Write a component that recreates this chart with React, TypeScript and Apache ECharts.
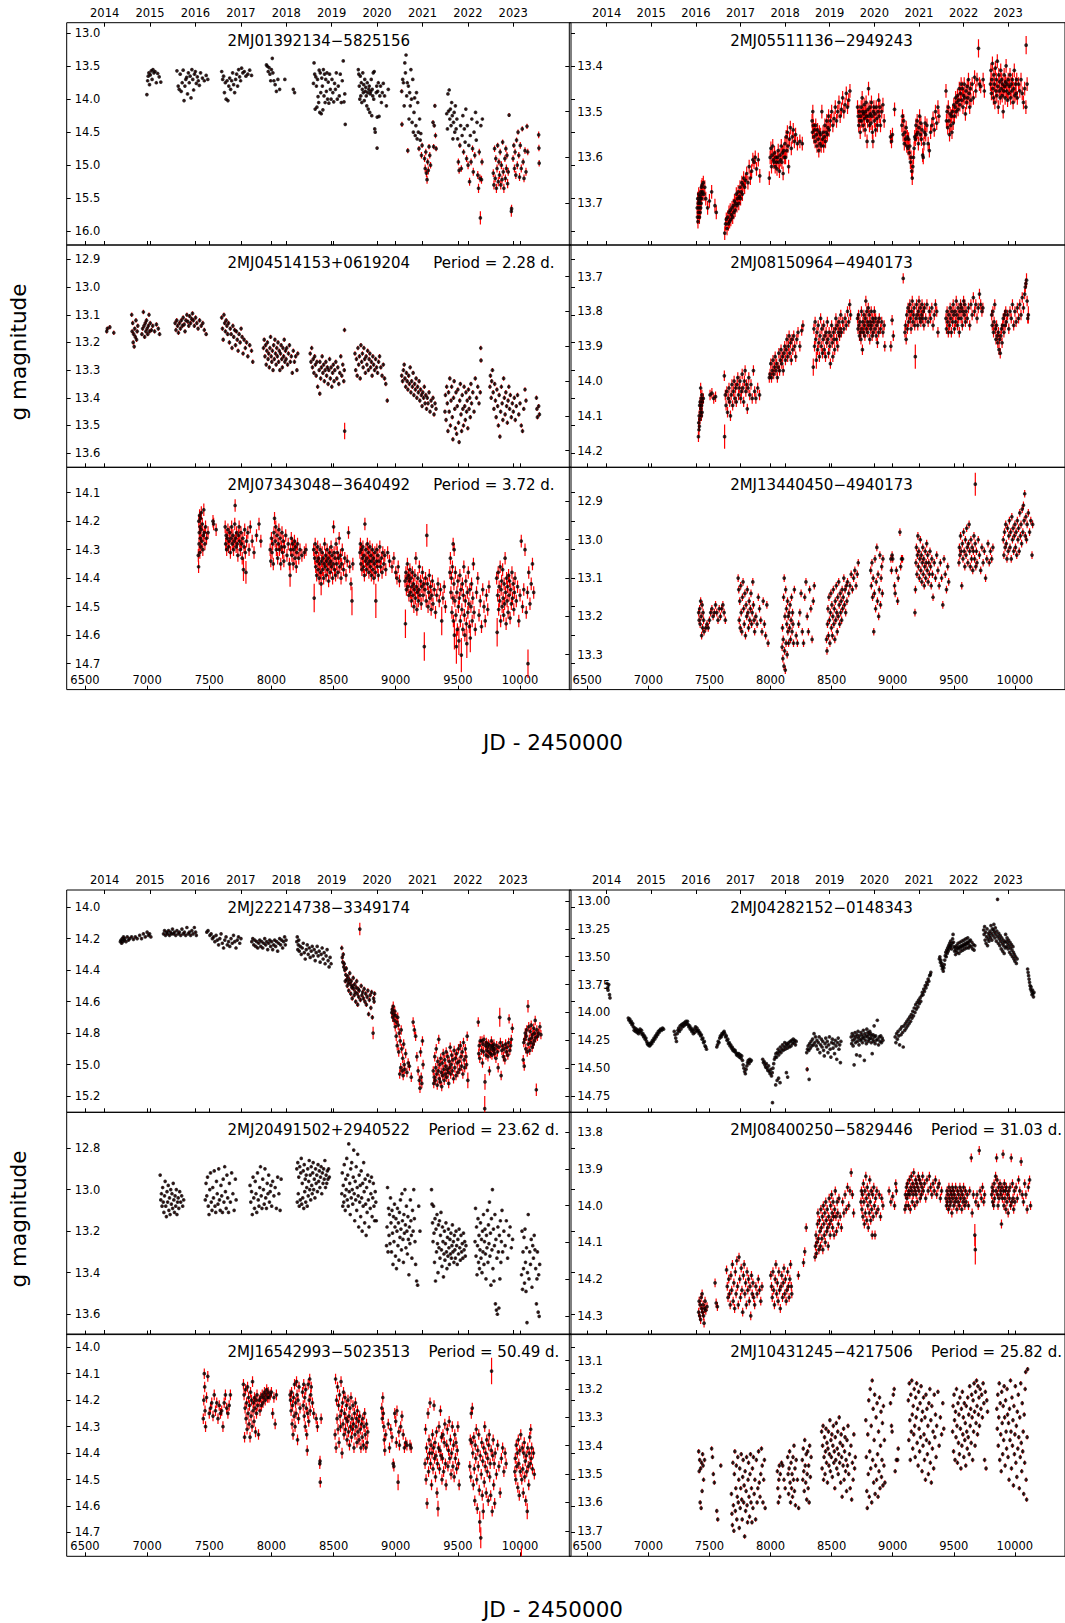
import React, { useEffect, useRef } from "react";
import * as echarts from "echarts";

const JD_TICKS = [6500, 7000, 7500, 8000, 8500, 9000, 9500, 10000];
const YEAR_JD = [6658.5, 7023.5, 7388.5, 7754.5, 8119.5, 8484.5, 8849.5, 9215.5, 9580.5, 9945.5];
const YEAR_LABELS = ["2014", "2015", "2016", "2017", "2018", "2019", "2020", "2021", "2022", "2023"];
const X_MIN = 6353;
const X_MAX = 10410;

const NAMES = [
  "2MJ01392134\u22125825156", "2MJ05511136\u22122949243",
  "2MJ04514153+0619204", "2MJ08150964\u22124940173",
  "2MJ07343048\u22123640492", "2MJ13440450\u22124940173",
  "2MJ22214738\u22123349174", "2MJ04282152\u22120148343",
  "2MJ20491502+2940522", "2MJ08400250\u22125829446",
  "2MJ16542993\u22125023513", "2MJ10431245\u22124217506",
];
const PERIODS = ["", "", "Period = 2.28 d.", "", "Period = 3.72 d.", "", "", "", "Period = 23.62 d.", "Period = 31.03 d.", "Period = 50.49 d.", "Period = 25.82 d."];
const Y_MIN = [12.84, 13.306, 12.848, 13.609, 14.011, 12.811, 13.892, 12.901, 12.628, 13.746, 13.95, 13.006];
const Y_MAX = [16.21, 13.791, 13.651, 14.248, 14.791, 13.391, 15.303, 14.896, 13.698, 14.351, 14.79, 13.79];
const Y_TICKS = [
  [13.0, 13.5, 14.0, 14.5, 15.0, 15.5, 16.0],
  [13.4, 13.5, 13.6, 13.7],
  [12.9, 13.0, 13.1, 13.2, 13.3, 13.4, 13.5, 13.6],
  [13.7, 13.8, 13.9, 14.0, 14.1, 14.2],
  [14.1, 14.2, 14.3, 14.4, 14.5, 14.6, 14.7],
  [12.9, 13.0, 13.1, 13.2, 13.3],
  [14.0, 14.2, 14.4, 14.6, 14.8, 15.0, 15.2],
  [13.0, 13.25, 13.5, 13.75, 14.0, 14.25, 14.5, 14.75],
  [12.8, 13.0, 13.2, 13.4, 13.6],
  [13.8, 13.9, 14.0, 14.1, 14.2, 14.3],
  [14.0, 14.1, 14.2, 14.3, 14.4, 14.5, 14.6, 14.7],
  [13.1, 13.2, 13.3, 13.4, 13.5, 13.6, 13.7],
];
const Y_DEC = [1, 1, 1, 1, 1, 1, 1, 2, 1, 1, 1, 1];

// ---------- observations [JD-2450000, g mag, (err)] ----------
const A_OBS = [
[6998,13.93],[7004,13.72],[7009,13.65],[7014,13.60],[7019,13.78],[7026,13.63],[7033,13.57],[7040,13.70],[7047,13.55],[7055,13.60],[7064,13.58],[7074,13.75],[7085,13.61],[7097,13.66],[7110,13.74],
[7240,13.57],[7250,13.80],[7258,13.85],[7266,13.62],[7274,13.88],[7282,13.75],[7290,13.56],[7297,14.02],[7304,13.80],[7311,13.70],[7318,13.67],[7325,13.92],[7332,13.60],[7339,13.75],[7346,13.65],[7353,13.98],[7360,13.55],[7367,13.70],[7374,13.86],[7381,13.62],[7388,13.58],[7396,13.76],[7404,13.66],[7412,13.72],[7420,13.79],[7430,13.60],[7445,13.68],[7460,13.72],[7475,13.64],[7488,13.70],
[7600,13.58],[7608,13.70],[7615,13.65],[7622,13.90],[7629,13.75],[7636,14.00],[7643,13.72],[7650,14.02],[7657,13.80],[7664,13.68],[7672,13.85],[7680,13.72],[7688,13.60],[7696,13.78],[7704,13.90],[7712,13.70],[7720,13.62],[7728,13.80],[7736,13.55],[7744,13.66],[7752,13.72],[7760,13.53],[7770,13.60],[7782,13.58],[7795,13.65],[7810,13.62],[7825,13.56],[7840,13.64],
[7960,13.48],[7967,13.50],[7974,13.58],[7981,13.52],[7988,13.62],[7994,13.72],[8000,13.55],[8007,13.38],[8012,13.60],[8020,13.72],[8030,13.78],[8040,13.88],[8052,13.70],[8066,13.85],[8108,13.70],[8176,13.85],[8186,13.90],
[8338,13.76],[8343,13.45],[8348,13.62],[8352,14.15],[8357,13.66],[8362,13.80],[8366,14.12],[8371,13.70],[8375,13.96],[8380,14.05],[8384,13.56],[8389,14.20],[8393,13.60],[8397,13.90],[8401,14.22],[8405,13.68],[8410,13.80],[8414,14.16],[8418,13.55],[8423,13.95],[8427,13.62],[8432,14.05],[8437,13.70],[8442,13.88],[8447,13.60],[8452,14.00],[8457,13.74],[8462,14.06],[8468,13.62],[8474,13.85],[8480,14.00],[8487,13.70],[8494,13.90],[8501,14.04],[8508,13.76],[8515,13.85],[8522,13.60],[8530,14.00],[8538,13.80],[8546,13.95],[8554,13.62],[8562,14.05],[8570,13.72],[8578,13.42],[8584,14.04],[8590,13.92],[8594,14.38],
[8699,13.55],[8703,13.62],[8707,13.80],[8711,14.00],[8715,13.65],[8719,13.95],[8723,13.75],[8727,14.05],[8731,13.85],[8735,13.60],[8739,13.90],[8743,13.78],[8747,14.02],[8751,13.70],[8755,13.88],[8759,13.82],[8763,13.95],[8767,14.10],[8771,13.75],[8775,13.90],[8779,14.15],[8783,13.85],[8787,13.80],[8791,14.20],[8795,13.92],[8799,13.88],[8803,13.70],[8807,14.25],[8811,13.85],[8815,13.95],[8819,13.60],[8823,14.00],[8827,13.58],[8831,14.45],[8835,14.50],[8850,14.74,0.02],[8843,13.90],[8847,13.80],[8851,14.27],[8855,13.88],[8860,13.75],[8866,14.26],[8872,13.95],[8878,13.80],[8885,14.05],[8892,13.90],[8900,13.76],[8910,13.95],[8925,14.10],[8940,13.85],
[9048,13.88,0.03],[9050,14.38,0.04],[9056,13.70],[9062,13.75],[9068,14.10],[9073,13.45],[9078,13.60],[9083,13.33],[9088,13.95],[9093,13.75],[9097,14.78,0.04],[9102,13.80],[9107,14.30],[9112,13.90],[9117,14.10],[9122,13.55],[9127,14.00],[9132,14.35],[9137,13.70],[9142,14.50],[9147,14.20],[9152,13.98],[9157,14.55],[9162,14.40],[9167,13.90],[9172,14.60],[9177,14.05],[9182,14.50],[9187,14.75,0.04],[9192,14.30],[9197,14.62],[9202,14.52],[9207,14.85,0.05],[9212,14.70,0.04],[9232,14.90,0.05],[9237,15.05,0.06],[9242,14.80,0.05],[9247,15.12,0.06],[9252,15.22,0.06],[9257,14.95,0.05],[9262,15.08,0.06],[9268,14.72,0.04],[9274,14.85,0.05],[9280,15.00,0.05],[9300,14.35,0.03],[9305,14.72,0.04],[9310,14.40,0.03],[9315,14.10,0.03],[9320,14.55,0.04],[9325,14.75,0.04],
[9410,14.22],[9416,14.45],[9420,13.92],[9425,14.18],[9430,13.86],[9435,14.30],[9440,14.15],[9445,14.40],[9450,14.05],[9455,14.25],[9460,14.60],[9465,14.35],[9470,14.20],[9475,14.50],[9480,14.10],[9486,14.45],[9492,14.30],[9498,14.60],[9504,14.95,0.05],[9510,15.08,0.05],[9516,14.70,0.04],[9522,14.40],[9528,15.05,0.05],[9534,14.55],[9540,14.25],[9546,14.80,0.04],[9552,14.45],[9558,14.65],[9564,14.15],[9570,14.90,0.05],[9576,14.40],[9582,15.00,0.06],[9588,14.70],[9594,15.25,0.06],[9600,14.55],[9606,14.95,0.05],[9612,14.30],[9618,14.75,0.05],[9624,15.10,0.06],[9630,14.50],[9636,14.85,0.05],[9642,14.20],[9648,14.62],[9654,14.35],[9660,15.15,0.06],[9666,15.35,0.07],[9672,14.80,0.05],[9678,15.20,0.06],[9681,15.80,0.1],[9685,14.40],[9690,15.22,0.06],[9694,14.95,0.05],[9697,14.30],
[9785,15.12,0.06],[9790,15.30,0.07],[9795,14.75,0.05],[9800,15.20,0.06],[9805,14.90,0.05],[9810,15.35,0.07],[9815,15.05,0.06],[9820,14.70,0.04],[9825,15.25,0.07],[9830,14.95,0.05],[9835,15.15,0.06],[9840,14.80,0.05],[9845,15.30,0.07],[9850,15.00,0.06],[9855,15.22,0.06],[9860,14.65,0.04],[9865,15.10,0.06],[9870,15.35,0.07],[9878,14.90,0.05],[9882,15.20,0.06],[9886,14.75,0.05],[9890,15.05,0.06],[9895,14.85,0.05],[9900,15.28,0.07],[9905,15.10,0.06],[9912,14.24,0.03],[9930,15.70,0.08],[9932,15.66,0.06],[9944,14.90,0.05],[9950,14.70,0.04],[9955,15.05,0.06],[9960,14.80,0.05],[9966,15.15,0.06],[9972,14.62,0.04],[9978,15.00,0.06],[9984,14.50,0.04],[9990,14.85,0.05],[9996,15.18,0.06],[10002,14.70,0.05],[10010,15.05,0.06],[10018,14.45,0.04],[10025,14.95,0.05],[10032,15.20,0.06],[10040,14.78,0.05],[10048,15.10,0.06],[10056,14.41,0.04],[10062,14.80,0.05],
[10150,14.54,0.05],[10152,14.74,0.05],[10154,14.97,0.05],
];

const B_OBS = [
[7400,13.71],[7402,13.73],[7404,13.69],[7406,13.74],[7408,13.70],[7410,13.72],[7412,13.68],[7414,13.71],[7416,13.695],[7418,13.73],[7420,13.70],[7422,13.685],[7424,13.72],[7426,13.69],[7428,13.71],[7430,13.675],[7432,13.70],[7434,13.665],[7436,13.69],[7438,13.68],[7440,13.66],[7445,13.675],[7450,13.655],[7455,13.68],[7462,13.665],[7470,13.69],[7485,13.71],[7500,13.695],[7518,13.675],[7545,13.705],[7556,13.72],
[7625,13.765],[7632,13.745],[7638,13.735],[7644,13.755],[7650,13.73],[7655,13.745],[7660,13.72],[7665,13.74],[7670,13.715],[7675,13.735],[7680,13.725],[7685,13.71],[7690,13.73],[7695,13.705],[7700,13.72],[7705,13.695],[7710,13.715],[7715,13.70],[7720,13.68],[7725,13.705],[7730,13.69],[7735,13.675],[7740,13.70],[7745,13.685],[7750,13.665],[7755,13.69],[7760,13.675],[7765,13.655],[7770,13.68],[7775,13.66],[7780,13.645],[7788,13.665],[7795,13.65],[7805,13.635],[7815,13.655],[7825,13.62],[7835,13.645],[7845,13.63],[7855,13.605],[7865,13.61],[7875,13.60],[7885,13.625],[7900,13.605],[7912,13.64],
[7990,13.645],[7997,13.60],[8003,13.58],[8008,13.62],[8013,13.595],[8018,13.575],[8023,13.605],[8028,13.61],[8033,13.59],[8038,13.62],[8043,13.60],[8048,13.61],[8053,13.625],[8058,13.60],[8063,13.585],[8068,13.61],[8073,13.63],[8078,13.595],[8083,13.605],[8088,13.575],[8093,13.61],[8098,13.59],[8103,13.635],[8108,13.585],[8113,13.60],[8118,13.57],[8123,13.60],[8128,13.555],[8133,13.585],[8138,13.545],[8143,13.575],[8148,13.62],[8155,13.56],[8162,13.535],[8170,13.58],[8178,13.555],[8186,13.54],[8195,13.565],[8205,13.55],[8220,13.57],[8240,13.565],[8260,13.57],
[8340,13.52],[8343,13.545],[8346,13.50],[8350,13.53],[8355,13.555],[8360,13.54],[8365,13.565],[8370,13.53],[8375,13.55],[8380,13.575],[8385,13.54],[8390,13.56],[8395,13.585],[8400,13.545],[8405,13.57],[8410,13.55],[8415,13.575],[8420,13.50],[8425,13.56],[8430,13.545],[8435,13.575],[8440,13.555],[8445,13.53],[8450,13.565],[8455,13.545],[8460,13.52],[8465,13.55],[8470,13.535],[8475,13.51],[8480,13.54],[8490,13.52],[8500,13.50],[8510,13.53],[8520,13.515],[8530,13.49],[8540,13.52],[8550,13.50],[8560,13.48],[8570,13.51],[8580,13.495],[8590,13.47],[8600,13.50],[8610,13.485],[8620,13.46],[8630,13.49],[8640,13.475],[8650,13.455],
[8712,13.49],[8718,13.51],[8722,13.53],[8726,13.50],[8730,13.52],[8734,13.545],[8738,13.51],[8742,13.49],[8746,13.52],[8750,13.47],[8754,13.50],[8758,13.53],[8762,13.505],[8766,13.485],[8770,13.515],[8774,13.54],[8778,13.50],[8782,13.48],[8786,13.51],[8790,13.565],[8794,13.52],[8798,13.495],[8802,13.45],[8806,13.51],[8810,13.53],[8814,13.49],[8818,13.505],[8822,13.525],[8826,13.48],[8830,13.51],[8834,13.545],[8838,13.565],[8842,13.50],[8846,13.49],[8850,13.52],[8855,13.505],[8860,13.54],[8865,13.49],[8870,13.515],[8875,13.53],[8880,13.50],[8885,13.475],[8890,13.51],[8895,13.49],[8900,13.53],[8910,13.50],[8920,13.485],[8930,13.52],
[8982,13.555],[8990,13.565],[8998,13.55],[9015,13.495],
[9075,13.53],[9080,13.51],[9085,13.55],[9090,13.52],[9095,13.57],[9100,13.545],[9105,13.56],[9110,13.535],[9115,13.575],[9120,13.555],[9125,13.58],[9130,13.56],[9135,13.59],[9140,13.575],[9145,13.61],[9150,13.60],[9155,13.63],[9160,13.645],[9165,13.62],[9170,13.60],[9175,13.58],[9180,13.555],[9185,13.56],[9190,13.53],[9195,13.55],[9200,13.52],[9205,13.545],[9210,13.57],[9215,13.535],[9220,13.51],[9225,13.55],[9230,13.525],[9235,13.56],[9240,13.54],[9245,13.595],[9250,13.60],[9255,13.57],[9260,13.545],[9265,13.525],[9270,13.55],[9280,13.53],[9290,13.57],[9300,13.585],[9310,13.545],[9320,13.53],[9330,13.515],[9340,13.54],[9350,13.50],[9360,13.525],[9370,13.49],[9378,13.51],
[9436,13.455],[9440,13.52],[9445,13.50],[9450,13.535],[9455,13.49],[9460,13.52],[9465,13.55],[9470,13.505],[9475,13.53],[9480,13.51],[9485,13.545],[9490,13.50],[9495,13.525],[9500,13.485],[9505,13.51],[9510,13.49],[9515,13.47],[9520,13.50],[9525,13.48],[9530,13.465],[9535,13.495],[9540,13.475],[9545,13.45],[9550,13.485],[9555,13.46],[9560,13.44],[9565,13.475],[9570,13.45],[9575,13.49],[9580,13.465],[9585,13.44],[9590,13.47],[9595,13.505],[9600,13.455],[9605,13.48],[9610,13.445],[9615,13.47],[9620,13.43],[9625,13.46],[9630,13.49],[9635,13.45],[9640,13.475],[9650,13.44],[9660,13.47],[9670,13.425],[9680,13.455],[9690,13.43],[9702,13.362,0.02],[9710,13.44],[9720,13.445],[9740,13.43],[9750,13.455],
[9800,13.44],[9804,13.41],[9808,13.46],[9812,13.43],[9816,13.395],[9820,13.45],[9824,13.47],[9828,13.42],[9832,13.44],[9836,13.48],[9840,13.405],[9844,13.455],[9848,13.43],[9852,13.465],[9856,13.39],[9860,13.445],[9864,13.49],[9868,13.42],[9872,13.455],[9876,13.435],[9880,13.47],[9884,13.41],[9888,13.45],[9892,13.43],[9896,13.465],[9900,13.44],[9904,13.50],[9908,13.455],[9912,13.42],[9916,13.445],[9920,13.47],[9924,13.435],[9928,13.40],[9932,13.455],[9936,13.44],[9940,13.475],[9945,13.43],[9950,13.46],[9955,13.445],[9960,13.42],[9965,13.47],[9970,13.44],[9975,13.455],[9980,13.43],[9985,13.48],[9990,13.45],[9995,13.41],[10000,13.465],[10005,13.44],[10010,13.46],[10015,13.43],[10020,13.47],[10030,13.44],[10040,13.455],[10050,13.43],[10060,13.46],[10070,13.48],[10080,13.45],[10090,13.49],[10092,13.355,0.02],[10100,13.44],
];

const C_OBS = [
[6675,13.16],[6680,13.15],[6700,13.145],[6732,13.165],
[6876,13.10],[6880,13.16],[6884,13.13],[6888,13.20],[6892,13.17],[6896,13.215],[6900,13.15],[6905,13.18],[6910,13.12],[6915,13.19],[6920,13.16],[6925,13.14],[6958,13.17],[6964,13.15],[6970,13.09],[6975,13.14],[6980,13.18],[6985,13.13],[6990,13.16],[6995,13.12],[7000,13.15],[7005,13.17],[7010,13.14],[7015,13.10],[7020,13.16],[7025,13.13],[7035,13.155],[7045,13.14],[7060,13.16],[7075,13.135],[7090,13.15],[7100,13.17],
[7225,13.13],[7232,13.155],[7238,13.12],[7245,13.14],[7252,13.165],[7260,13.13],[7268,13.15],[7275,13.12],[7283,13.14],[7290,13.11],[7298,13.135],[7305,13.16],[7312,13.12],[7320,13.10],[7328,13.125],[7335,13.14],[7342,13.105],[7350,13.13],[7358,13.115],[7365,13.095],[7372,13.12],[7380,13.14],[7390,13.11],[7400,13.13],[7410,13.15],[7422,13.12],[7435,13.14],[7448,13.13],[7460,13.155],[7475,13.17],
[7600,13.11],[7606,13.15],[7612,13.19],[7618,13.10],[7624,13.13],[7630,13.16],[7636,13.12],[7642,13.14],[7648,13.17],[7655,13.13],[7662,13.20],[7669,13.15],[7676,13.17],[7683,13.22],[7690,13.14],[7697,13.18],[7704,13.155],[7711,13.21],[7718,13.16],[7725,13.19],[7732,13.23],[7740,13.17],[7748,13.20],[7756,13.15],[7764,13.18],[7772,13.24],[7780,13.19],[7790,13.22],[7800,13.20],[7810,13.25],[7825,13.21],[7840,13.23],[7850,13.27],
[7936,13.22],[7942,13.19],[7948,13.25],[7953,13.21],[7958,13.28],[7963,13.23],[7968,13.20],[7973,13.26],[7978,13.24],[7983,13.29],[7988,13.22],[7993,13.18],[7998,13.25],[8003,13.27],[8008,13.23],[8013,13.30],[8018,13.21],[8023,13.26],[8028,13.19],[8033,13.24],[8038,13.28],[8043,13.22],[8048,13.25],[8053,13.20],[8058,13.27],[8063,13.23],[8068,13.30],[8073,13.24],[8078,13.21],[8083,13.26],[8088,13.29],[8093,13.22],[8098,13.25],[8103,13.19],[8108,13.27],[8113,13.23],[8118,13.26],[8123,13.22],[8130,13.28],[8137,13.24],[8145,13.21],[8152,13.27],[8160,13.25],[8168,13.31],[8176,13.23],[8185,13.27],[8195,13.25],[8205,13.30],[8212,13.24],
[8312,13.24],[8318,13.27],[8324,13.22],[8330,13.29],[8336,13.26],[8342,13.31],[8348,13.25],[8354,13.28],[8360,13.32],[8366,13.27],[8372,13.36],[8389,13.385],[8384,13.30],[8390,13.27],[8396,13.33],[8402,13.29],[8408,13.25],[8414,13.31],[8420,13.28],[8426,13.34],[8432,13.30],[8438,13.27],[8444,13.32],[8450,13.29],[8456,13.35],[8462,13.30],[8468,13.26],[8474,13.33],[8480,13.29],[8486,13.36],[8492,13.31],[8498,13.28],[8504,13.34],[8510,13.30],[8518,13.27],[8526,13.33],[8534,13.29],[8542,13.35],[8550,13.31],[8558,13.25],[8566,13.32],[8574,13.28],[8582,13.34],[8588,13.155],[8589,13.52,0.03],[8586,13.30],
[8672,13.24],[8678,13.30],[8684,13.26],[8690,13.32],[8696,13.22],[8702,13.28],[8708,13.25],[8714,13.33],[8720,13.21],[8726,13.27],[8732,13.24],[8738,13.29],[8744,13.22],[8750,13.26],[8756,13.31],[8762,13.25],[8768,13.28],[8774,13.23],[8780,13.30],[8786,13.26],[8792,13.24],[8798,13.29],[8804,13.27],[8810,13.32],[8816,13.25],[8822,13.28],[8830,13.30],[8838,13.26],[8846,13.29],[8854,13.31],[8862,13.27],[8870,13.25],[8880,13.29],[8890,13.32],[8900,13.28],[8910,13.33],[8920,13.35],[8932,13.41],
[9048,13.32],[9055,13.34],[9062,13.30],[9068,13.28],[9074,13.33],[9080,13.36],[9086,13.31],[9092,13.34],[9098,13.37],[9104,13.32],[9110,13.35],[9116,13.29],[9122,13.38],[9128,13.34],[9134,13.36],[9140,13.31],[9146,13.39],[9152,13.35],[9158,13.37],[9164,13.33],[9170,13.40],[9176,13.36],[9182,13.38],[9188,13.34],[9194,13.41],[9200,13.37],[9206,13.39],[9212,13.43],[9218,13.38],[9224,13.40],[9230,13.36],[9236,13.42],[9242,13.39],[9248,13.44],[9254,13.40],[9260,13.42],[9268,13.38],[9276,13.45],[9284,13.41],[9292,13.43],[9300,13.40],[9308,13.46],[9316,13.42],[9324,13.44],
[9396,13.45],[9400,13.39],[9405,13.48],[9410,13.36],[9415,13.42],[9420,13.52],[9425,13.38],[9430,13.45],[9435,13.33],[9440,13.50],[9445,13.41],[9450,13.36],[9455,13.47],[9460,13.55],[9465,13.40],[9470,13.34],[9475,13.44],[9480,13.51],[9485,13.38],[9490,13.53],[9495,13.43],[9500,13.37],[9505,13.49],[9510,13.56],[9515,13.41],[9520,13.35],[9525,13.46],[9530,13.52],[9535,13.39],[9540,13.44],[9545,13.50],[9550,13.36],[9555,13.43],[9560,13.48],[9565,13.38],[9570,13.45],[9575,13.41],[9580,13.51],[9585,13.37],[9590,13.44],[9595,13.40],[9600,13.47],[9605,13.35],[9610,13.42],[9620,13.38],[9630,13.45],[9640,13.33],[9650,13.40],[9660,13.36],[9670,13.42],[9680,13.38],[9684,13.22],[9686,13.265],
[9758,13.36],[9762,13.32],[9768,13.40],[9772,13.34],[9778,13.30],[9784,13.38],[9790,13.44],[9796,13.35],[9802,13.41],[9808,13.47],[9814,13.37],[9820,13.43],[9826,13.50],[9832,13.39],[9838,13.54],[9844,13.45],[9850,13.36],[9856,13.42],[9862,13.48],[9868,13.33],[9874,13.40],[9880,13.46],[9886,13.38],[9892,13.43],[9898,13.49],[9904,13.41],[9910,13.36],[9916,13.44],[9922,13.39],[9930,13.47],[9938,13.42],[9946,13.45],[9954,13.40],[9962,13.48],[9970,13.43],[9980,13.39],[9990,13.46],[10000,13.42],[10010,13.50],[10020,13.52],[10030,13.44],[10040,13.37],[10048,13.41],
[10132,13.40],[10136,13.44],[10140,13.47],[10150,13.43],[10156,13.46],
];

const D_OBS = [
[7410,14.16],[7412,14.12],[7414,14.14],[7416,14.10],[7418,14.13],[7420,14.07],[7422,14.11],[7424,14.06],[7426,14.09],[7428,14.02],[7430,14.08],[7432,14.05],[7434,14.10],[7436,14.07],[7438,14.04],[7440,14.09],[7442,14.06],[7450,14.05],[7505,14.04],[7520,14.035],[7535,14.05],[7550,14.045],
[7622,13.985],[7624,14.16,0.035],[7630,14.04],[7636,14.07],[7642,14.03],[7648,14.09],[7654,14.05],[7660,14.02],[7666,14.06],[7672,14.10],[7678,14.04],[7684,14.01],[7690,14.07],[7696,14.03],[7702,14.00],[7708,14.05],[7714,14.02],[7720,14.06],[7726,14.01],[7732,13.99],[7738,14.04],[7744,14.02],[7750,14.00],[7756,14.05],[7762,14.03],[7768,13.98],[7774,14.02],[7780,14.06],[7786,14.00],[7792,13.97],[7798,14.03],[7804,14.01],[7810,14.08],[7816,14.02],[7822,13.99],[7830,14.04],[7840,14.01],[7850,14.05],[7860,13.97],[7870,14.03],[7880,14.05],[7895,14.02],[7910,14.04],
[7990,13.99],[7996,13.98],[8002,13.95],[8008,13.99],[8014,13.97],[8020,13.94],[8026,13.98],[8032,13.96],[8038,13.93],[8044,13.97],[8050,13.95],[8056,13.99],[8062,13.96],[8068,13.92],[8074,13.97],[8080,13.94],[8086,13.91],[8092,13.95],[8098,13.93],[8104,13.97],[8110,13.92],[8116,13.90],[8122,13.94],[8128,13.91],[8134,13.88],[8140,13.93],[8146,13.90],[8152,13.87],[8158,13.92],[8164,13.89],[8170,13.94],[8176,13.88],[8182,13.91],[8190,13.87],[8198,13.90],[8206,13.93],[8215,13.88],[8225,13.86],[8240,13.90],[8255,13.855],[8265,13.84],
[8350,13.96,0.025],[8355,13.85],[8360,13.90],[8365,13.83],[8370,13.88],[8375,13.94,0.025],[8380,13.86],[8385,13.91],[8390,13.84],[8395,13.89],[8400,13.93],[8405,13.87],[8410,13.82],[8415,13.90],[8420,13.85],[8425,13.92],[8430,13.88],[8435,13.84],[8440,13.91],[8445,13.87],[8450,13.93],[8455,13.86],[8460,13.89],[8465,13.83],[8470,13.88],[8475,13.92],[8480,13.86],[8485,13.90],[8490,13.95],[8495,13.87],[8500,13.84],[8505,13.89],[8510,13.93],[8515,13.86],[8520,13.88],[8525,13.91],[8530,13.85],[8535,13.82],[8540,13.88],[8545,13.84],[8550,13.90],[8555,13.86],[8560,13.83],[8565,13.87],[8570,13.85],[8575,13.81],[8580,13.86],[8590,13.83],[8600,13.85],[8610,13.82],[8620,13.84],[8630,13.80],[8640,13.83],[8648,13.78],[8655,13.81],
[8712,13.82],[8716,13.85],[8720,13.81],[8724,13.84],[8728,13.87],[8732,13.83],[8736,13.86],[8740,13.88],[8744,13.80],[8748,13.85],[8752,13.91],[8756,13.83],[8760,13.86],[8764,13.81],[8768,13.84],[8772,13.87],[8776,13.82],[8780,13.77],[8784,13.85],[8788,13.80],[8792,13.83],[8796,13.86],[8800,13.79],[8804,13.84],[8808,13.81],[8812,13.88],[8816,13.83],[8820,13.85],[8824,13.80],[8828,13.84],[8832,13.87],[8836,13.82],[8840,13.86],[8845,13.83],[8850,13.80],[8855,13.85],[8860,13.82],[8865,13.87],[8870,13.84],[8875,13.89],[8880,13.83],[8885,13.86],[8890,13.82],[8900,13.85],[8910,13.83],[8920,13.86],[8930,13.84],[8935,13.90],
[8985,13.90],[8995,13.825],[9005,13.87],[9086,13.705],
[9100,13.86],[9105,13.84],[9110,13.88],[9115,13.81],[9120,13.85],[9125,13.79],[9130,13.83],[9135,13.80],[9140,13.78],[9145,13.82],[9150,13.85],[9155,13.80],[9160,13.77],[9165,13.83],[9170,13.81],[9175,13.79],[9180,13.84],[9185,13.93,0.035],[9190,13.82],[9195,13.78],[9200,13.81],[9205,13.84],[9210,13.80],[9215,13.77],[9220,13.82],[9225,13.79],[9230,13.83],[9235,13.81],[9240,13.78],[9245,13.82],[9250,13.80],[9255,13.84],[9260,13.79],[9270,13.82],[9280,13.78],[9290,13.83],[9300,13.80],[9310,13.82],[9320,13.79],[9330,13.84],[9340,13.81],[9350,13.78],[9360,13.80],[9370,13.86],
[9436,13.82],[9440,13.85],[9445,13.80],[9450,13.83],[9455,13.86],[9460,13.81],[9465,13.84],[9470,13.79],[9475,13.82],[9480,13.86],[9485,13.80],[9490,13.83],[9495,13.78],[9500,13.81],[9505,13.85],[9510,13.80],[9515,13.83],[9520,13.77],[9525,13.81],[9530,13.84],[9535,13.79],[9540,13.82],[9545,13.86],[9550,13.80],[9555,13.78],[9560,13.82],[9565,13.79],[9570,13.84],[9575,13.80],[9580,13.77],[9585,13.81],[9590,13.78],[9595,13.83],[9600,13.80],[9610,13.82],[9620,13.79],[9630,13.84],[9640,13.78],[9650,13.81],[9660,13.76],[9670,13.80],[9680,13.78],[9690,13.82],[9700,13.79],[9710,13.75],[9720,13.78],[9730,13.80],[9738,13.79],
[9810,13.81],[9815,13.84],[9820,13.80],[9825,13.86],[9830,13.83],[9835,13.78],[9840,13.85],[9845,13.88],[9850,13.84],[9855,13.87],[9860,13.89],[9865,13.86],[9870,13.91],[9875,13.88],[9880,13.92],[9885,13.87],[9890,13.85],[9895,13.89],[9900,13.84],[9905,13.82],[9910,13.86],[9915,13.81],[9920,13.84],[9925,13.80],[9930,13.83],[9940,13.81],[9950,13.85],[9960,13.80],[9970,13.82],[9980,13.78],[9990,13.84],[10000,13.80],[10010,13.83],[10020,13.79],[10030,13.82],[10040,13.78],[10050,13.81],[10060,13.76],[10070,13.79],[10080,13.75],[10085,13.73],[10090,13.72],[10095,13.71,0.02],[10100,13.77],[10105,13.82],[10110,13.81,0.025],
];

const E_OBS = [
[7412,14.32],[7414,14.36],[7416,14.20],[7418,14.28],[7420,14.24],[7422,14.18],[7424,14.31],[7426,14.22],[7428,14.26],[7430,14.19],[7432,14.29],[7434,14.23],[7436,14.17],[7440,14.27],[7444,14.21],[7448,14.30],[7452,14.25],[7456,14.16],[7460,14.24],[7465,14.28],[7470,14.22],[7478,14.26],[7490,14.24],[7530,14.20],[7535,14.21],[7555,14.23],
[7628,14.22],[7632,14.28],[7636,14.25],[7640,14.30],[7645,14.26],[7650,14.23],[7655,14.29],[7660,14.27],[7665,14.24],[7670,14.31],[7675,14.26],[7680,14.22],[7685,14.28],[7690,14.25],[7695,14.30],[7700,14.27],[7705,14.21],[7708,14.145],[7712,14.26],[7716,14.29],[7720,14.24],[7725,14.28],[7730,14.32],[7735,14.25],[7740,14.22],[7745,14.27],[7750,14.30],[7755,14.24],[7760,14.28],[7765,14.33],[7770,14.26],[7775,14.37,0.04],[7780,14.29],[7785,14.23],[7790,14.31],[7795,14.38,0.04],[7800,14.27],[7810,14.24],[7820,14.30],[7830,14.22],[7845,14.27],[7860,14.31],[7880,14.25],[7900,14.21],[7915,14.27],
[7990,14.30],[7995,14.34],[8000,14.26],[8005,14.31],[8010,14.28],[8015,14.35],[8020,14.24],[8025,14.19],[8030,14.27],[8035,14.22],[8040,14.30],[8045,14.25],[8050,14.33],[8055,14.28],[8060,14.23],[8065,14.30],[8070,14.26],[8075,14.35],[8080,14.29],[8085,14.24],[8090,14.31],[8095,14.27],[8100,14.34],[8105,14.29],[8115,14.25],[8125,14.32],[8135,14.28],[8145,14.35],[8150,14.39,0.04],[8155,14.30],[8160,14.26],[8165,14.32],[8170,14.28],[8175,14.35],[8180,14.30],[8185,14.27],[8190,14.33],[8195,14.29],[8200,14.36],[8205,14.31],[8210,14.28],[8220,14.33],[8230,14.30],[8245,14.32],[8265,14.31],[8278,14.30],
[8340,14.30],[8344,14.47,0.05],[8348,14.33],[8352,14.28],[8356,14.36],[8360,14.31],[8364,14.39],[8368,14.34],[8372,14.29],[8376,14.37],[8380,14.33],[8384,14.40],[8388,14.35],[8392,14.30],[8396,14.38],[8400,14.42,0.04],[8404,14.34],[8408,14.31],[8412,14.37],[8416,14.33],[8420,14.40],[8424,14.35],[8428,14.28],[8432,14.36],[8436,14.32],[8440,14.39],[8444,14.34],[8448,14.30],[8452,14.37],[8456,14.33],[8460,14.41],[8464,14.35],[8468,14.31],[8472,14.38],[8476,14.34],[8480,14.29],[8484,14.36],[8488,14.32],[8492,14.40],[8496,14.35],[8500,14.22],[8504,14.31],[8508,14.37],[8512,14.33],[8516,14.39],[8520,14.28],[8525,14.35],[8530,14.31],[8535,14.38],[8540,14.33],[8545,14.26],[8550,14.36],[8555,14.32],[8560,14.40],[8565,14.35],[8570,14.30],[8580,14.37],[8590,14.33],[8600,14.39],[8610,14.34],[8620,14.24],[8630,14.36],[8640,14.42],[8648,14.48,0.05],[8655,14.35],
[8712,14.31],[8716,14.28],[8720,14.35],[8724,14.30],[8728,14.37],[8732,14.33],[8736,14.29],[8740,14.36],[8744,14.32],[8748,14.39],[8752,14.21],[8756,14.34],[8760,14.30],[8764,14.37],[8768,14.33],[8772,14.28],[8776,14.35],[8780,14.31],[8784,14.38],[8788,14.34],[8792,14.29],[8796,14.36],[8800,14.32],[8804,14.39],[8808,14.34],[8812,14.30],[8816,14.37],[8820,14.33],[8824,14.40],[8828,14.35],[8832,14.31],[8836,14.38],[8840,14.48,0.06],[8844,14.34],[8848,14.30],[8852,14.36],[8856,14.32],[8860,14.39],[8866,14.34],[8872,14.29],[8878,14.36],[8884,14.33],[8890,14.38],[8896,14.31],[8904,14.35],[8912,14.32],[8920,14.37],[8935,14.31],[8950,14.34],[8970,14.36],[8985,14.33],[9000,14.38],[9010,14.40],[9020,14.36],[9030,14.41],
[9075,14.41],[9078,14.56,0.05],[9082,14.38],[9086,14.44],[9090,14.40],[9094,14.35],[9098,14.43],[9102,14.39],[9106,14.46],[9110,14.41],[9114,14.37],[9118,14.45],[9122,14.40],[9126,14.48],[9130,14.43],[9134,14.38],[9138,14.46],[9142,14.42],[9146,14.50],[9150,14.44],[9154,14.39],[9158,14.47],[9162,14.33],[9166,14.43],[9170,14.51],[9174,14.45],[9178,14.40],[9182,14.48],[9186,14.44],[9190,14.36],[9195,14.46],[9200,14.41],[9205,14.49],[9210,14.43],[9215,14.38],[9220,14.46],[9225,14.42],[9230,14.64,0.05],[9235,14.44],[9240,14.40],[9245,14.48],[9250,14.25,0.04],[9255,14.42],[9260,14.50],[9265,14.45],[9270,14.39],[9275,14.47],[9280,14.43],[9285,14.51],[9290,14.46],[9295,14.41],[9300,14.49],[9310,14.44],[9320,14.52],[9330,14.46],[9340,14.42],[9350,14.48],[9360,14.44],[9370,14.55,0.05],[9380,14.47],[9390,14.43],[9400,14.50],
[9436,14.38],[9440,14.33],[9444,14.45],[9448,14.40],[9452,14.52],[9456,14.36],[9460,14.47],[9462,14.28],[9464,14.55],[9468,14.42],[9470,14.30],[9472,14.60,0.05],[9476,14.48],[9480,14.38],[9484,14.53],[9488,14.64,0.06],[9492,14.45],[9496,14.58],[9500,14.41],[9504,14.50],[9508,14.62,0.05],[9512,14.47],[9516,14.39],[9520,14.55],[9524,14.44],[9528,14.67,0.06],[9532,14.51],[9536,14.42],[9540,14.58],[9544,14.46],[9548,14.36],[9552,14.53],[9556,14.60],[9560,14.48],[9564,14.41],[9568,14.56],[9572,14.63,0.05],[9576,14.45],[9580,14.52],[9584,14.38],[9588,14.49],[9592,14.57],[9596,14.44],[9600,14.61,0.05],[9605,14.50],[9610,14.42],[9615,14.55],[9620,14.47],[9625,14.35],[9630,14.52],[9640,14.58],[9650,14.45],[9660,14.40],[9670,14.53],[9680,14.48],[9690,14.57],[9700,14.44],[9710,14.50],[9720,14.55],[9730,14.46],[9740,14.51],[9750,14.43],
[9812,14.40],[9816,14.59,0.05],[9820,14.46],[9824,14.38],[9828,14.51],[9832,14.43],[9836,14.48],[9840,14.36],[9844,14.55],[9848,14.44],[9852,14.41],[9856,14.50],[9860,14.37],[9864,14.47],[9868,14.53],[9872,14.42],[9876,14.49],[9880,14.33],[9884,14.45],[9888,14.56],[9892,14.40],[9896,14.48],[9900,14.43],[9904,14.52],[9908,14.39],[9912,14.46],[9916,14.41],[9920,14.54],[9925,14.44],[9930,14.49],[9935,14.38],[9940,14.47],[9945,14.42],[9950,14.51],[9955,14.45],[9960,14.40],[9970,14.48],[9980,14.43],[9990,14.55],[10000,14.46],[10010,14.27],[10020,14.50],[10030,14.44],[10040,14.30],[10050,14.52],[10064,14.70,0.05],[10060,14.45],[10070,14.38],[10080,14.49],[10090,14.42],[10100,14.35],[10110,14.45],
];

const F_OBS = [
[7412,13.19],[7416,13.21],[7420,13.18],[7424,13.22],[7428,13.16],[7432,13.20],[7436,13.25],[7440,13.17],[7444,13.23],[7448,13.19],[7452,13.21],[7456,13.24],[7470,13.23],[7480,13.22],[7490,13.23],[7500,13.21],[7510,13.19],[7520,13.18],[7530,13.20],[7540,13.19],[7550,13.17],[7560,13.19],[7570,13.21],[7580,13.18],[7590,13.20],[7600,13.18],[7610,13.17],[7620,13.19],[7630,13.21],
[7735,13.10],[7740,13.13],[7744,13.21],[7748,13.16],[7752,13.23],[7756,13.12],[7760,13.19],[7765,13.24],[7770,13.15],[7775,13.11],[7780,13.18],[7785,13.22],[7790,13.14],[7795,13.25],[7800,13.17],[7805,13.20],[7810,13.13],[7815,13.19],[7820,13.23],[7825,13.16],[7830,13.21],[7835,13.18],[7840,13.14],[7845,13.22],[7850,13.19],[7855,13.11],[7860,13.17],[7865,13.21],[7870,13.24],[7880,13.20],[7890,13.22],[7900,13.15],[7910,13.18],[7920,13.21],[7930,13.24],[7940,13.16],[7950,13.22],[7960,13.25],[7970,13.17],[7980,13.27],
[8095,13.28],[8098,13.23],[8101,13.31],[8104,13.26],[8107,13.15],[8110,13.33],[8112,13.10],[8115,13.29],[8118,13.20],[8121,13.34],[8124,13.13],[8127,13.27],[8130,13.18],[8133,13.22],[8136,13.30],[8139,13.16],[8142,13.24],[8145,13.20],[8148,13.27],[8152,13.19],[8156,13.23],[8160,13.17],[8164,13.26],[8168,13.21],[8172,13.15],[8176,13.24],[8180,13.19],[8184,13.22],[8188,13.27],[8195,13.13],[8210,13.25],[8220,13.27],[8230,13.22],[8240,13.19],[8250,13.14],[8260,13.24],[8270,13.27],[8280,13.15],[8290,13.11],[8300,13.20],[8310,13.24],[8320,13.13],[8330,13.18],[8340,13.26],[8350,13.16],[8358,13.12],
[8458,13.26],[8462,13.29],[8466,13.22],[8470,13.18],[8474,13.25],[8478,13.15],[8482,13.21],[8486,13.27],[8490,13.19],[8494,13.14],[8498,13.23],[8502,13.17],[8506,13.25],[8510,13.20],[8514,13.13],[8518,13.22],[8522,13.18],[8526,13.26],[8530,13.16],[8534,13.21],[8538,13.12],[8542,13.19],[8546,13.24],[8550,13.15],[8554,13.20],[8558,13.11],[8562,13.17],[8566,13.22],[8570,13.14],[8574,13.19],[8578,13.16],[8582,13.21],[8586,13.13],[8590,13.18],[8595,13.15],[8600,13.10],[8605,13.17],[8610,13.13],[8615,13.19],[8620,13.12],[8625,13.16],[8630,13.11],[8640,13.14],[8650,13.12],[8660,13.09],[8670,13.13],[8680,13.10],[8690,13.08],[8700,13.12],[8710,13.09],[8718,13.06],
[8820,13.08],[8825,13.12],[8830,13.06],[8835,13.15],[8840,13.10],[8845,13.24],[8850,13.14],[8855,13.05],[8860,13.18],[8865,13.11],[8870,13.02],[8875,13.16],[8880,13.09],[8885,13.20],[8890,13.13],[8895,13.04],[8900,13.17],[8905,13.10],[8910,13.07],[8915,13.14],[8920,13.05],
[8985,13.05],[8990,13.08],[8995,13.04],[9000,13.05],[9015,13.12],[9020,13.14],[9030,13.08],[9040,13.16],[9045,13.10],[9059,12.98],[9065,13.07],[9072,13.05],[9080,13.05],
[9182,13.19],[9186,13.13],[9190,13.06],[9194,13.02],[9198,13.09],[9202,13.04],[9206,12.99],[9210,13.07],[9214,13.03],[9218,13.10],[9222,13.05],[9226,13.00],[9230,13.08],[9234,13.04],[9238,13.11],[9242,13.06],[9246,13.02],[9250,13.09],[9254,13.05],[9258,13.12],[9262,13.07],[9266,13.03],[9270,13.10],[9274,13.06],[9278,13.01],[9282,13.08],[9286,13.04],[9290,13.11],[9295,13.06],[9300,13.09],[9305,13.03],[9310,13.07],[9315,13.12],[9320,13.05],[9325,13.09],[9330,13.15],[9340,13.06],[9350,13.10],[9360,13.04],[9370,13.08],[9380,13.12],[9390,13.06],[9400,13.10],[9410,13.17],[9420,13.05],[9430,13.09],[9440,13.13],[9450,13.07],[9458,13.11],
[9542,13.06],[9546,13.02],[9550,13.04],[9555,12.99],[9560,13.03],[9565,13.12],[9570,13.01],[9575,13.05],[9580,12.98],[9585,13.03],[9590,13.07],[9595,13.00],[9600,13.04],[9605,12.97],[9610,13.02],[9615,13.06],[9620,13.01],[9625,12.96],[9630,13.03],[9635,13.07],[9640,13.00],[9645,13.05],[9650,13.02],[9655,13.08],[9660,13.03],[9665,12.99],[9670,13.05],[9676,12.855,0.03],[9675,13.01],[9680,13.07],[9685,13.03],[9690,13.06],[9700,13.00],[9710,13.04],[9720,13.08],[9730,13.02],[9740,13.06],[9750,13.03],[9760,13.10],[9770,13.05],[9780,13.01],[9790,13.06],[9800,13.03],[9810,13.05],[9820,13.02],
[9905,13.00],[9910,13.04],[9915,12.98],[9920,13.02],[9925,12.96],[9930,13.01],[9935,13.05],[9940,12.97],[9945,13.03],[9950,12.99],[9955,12.95],[9960,13.02],[9965,12.98],[9970,13.05],[9975,12.94],[9980,13.00],[9985,12.97],[9990,13.03],[9995,12.99],[10000,12.96],[10005,13.02],[10010,12.98],[10015,13.04],[10020,12.95],[10025,13.00],[10030,12.97],[10035,13.03],[10040,12.93],[10045,12.99],[10050,12.96],[10055,13.01],[10060,12.92],[10065,12.98],[10070,12.91],[10075,12.95],[10080,12.88],[10085,12.99],[10090,12.94],[10095,13.00],[10100,12.96],[10110,12.93],[10120,12.98],[10130,12.95],[10140,13.04],[10145,12.96],
];

const G_EARLY = [
[6785,14.22],[6790,14.21],[6795,14.23],[6800,14.20],[6805,14.22],[6810,14.19],[6815,14.21],[6820,14.20],[6830,14.22],[6840,14.19],[6850,14.21],[6860,14.20],[6875,14.19],[6890,14.205],[6905,14.19],[6920,14.20],[6940,14.18],[6955,14.20],[6970,14.17],[6985,14.19],[7000,14.16],[7010,14.18],[7020,14.17],[7030,14.19],
[7132,14.17],[7140,14.15],[7148,14.18],[7156,14.16],[7164,14.17],[7172,14.15],[7180,14.18],[7188,14.16],[7196,14.17],[7204,14.14],[7212,14.17],[7220,14.16],[7230,14.18],[7240,14.15],[7250,14.17],[7260,14.16],[7270,14.18],[7280,14.14],[7290,14.17],[7300,14.16],[7310,14.18],[7320,14.13],[7330,14.17],[7340,14.16],[7350,14.18],[7360,14.15],[7370,14.17],[7380,14.13],[7390,14.16],[7396,14.18],
[7480,14.16],[7490,14.15],[7505,14.18],[7515,14.17],[7525,14.20],[7535,14.19],[7545,14.22],[7555,14.18],[7565,14.21],[7575,14.24],[7585,14.20],[7595,14.17],[7605,14.23],[7615,14.26],[7625,14.21],[7635,14.19],[7645,14.24],[7655,14.22],[7665,14.25],[7675,14.20],[7685,14.23],[7695,14.18],[7705,14.22],[7715,14.26],[7725,14.21],[7735,14.19],[7745,14.23],[7755,14.20],
[7842,14.22],[7850,14.20],[7858,14.24],[7866,14.21],[7874,14.25],[7882,14.22],[7890,14.26],[7898,14.23],[7906,14.21],[7914,14.25],[7922,14.22],[7930,14.26],[7938,14.23],[7946,14.20],[7954,14.24],[7962,14.22],[7970,14.27],[7978,14.23],[7986,14.21],[7994,14.25],[8002,14.22],[8010,14.27],[8018,14.24],[8026,14.21],[8034,14.25],[8042,14.22],[8050,14.28],[8058,14.23],[8066,14.20],[8074,14.24],[8082,14.21],[8090,14.26],[8098,14.22],[8106,14.19],[8112,14.24],[8118,14.21],
[8204,14.22],[8208,14.19],[8212,14.27],[8216,14.24],[8220,14.21],[8224,14.28],[8232,14.25],[8240,14.30],[8248,14.26],[8256,14.23],[8264,14.29],[8272,14.33],[8280,14.27],[8288,14.24],[8296,14.30],[8304,14.26],[8312,14.32],[8320,14.28],[8328,14.25],[8336,14.31],[8344,14.27],[8352,14.34],[8360,14.29],[8368,14.25],[8376,14.31],[8384,14.28],[8392,14.35],[8400,14.30],[8408,14.26],[8416,14.33],[8424,14.29],[8432,14.36],[8440,14.31],[8448,14.27],[8456,14.34],[8464,14.38],[8472,14.32],[8480,14.36],
];
const G_MID = [
[8566,14.26],[8570,14.32],[8574,14.35],[8578,14.30],[8582,14.38],[8586,14.36],[8590,14.40],[8594,14.47],[8598,14.43],[8602,14.39],[8606,14.46],[8610,14.50],[8614,14.44],[8618,14.48],[8622,14.53],[8626,14.46],[8630,14.42],[8634,14.49],[8638,14.55],[8642,14.47],[8646,14.51],[8650,14.58],[8654,14.50],[8658,14.45],[8662,14.52],[8666,14.56],[8670,14.49],[8674,14.54],[8678,14.60],[8682,14.51],[8686,14.47],[8690,14.55],[8694,14.62],[8698,14.52],[8702,14.57],[8706,14.53],[8711,14.14,0.04],[8716,14.59],[8722,14.50],[8728,14.56],[8734,14.54],[8740,14.58],[8746,14.52],[8752,14.60],[8758,14.55],[8764,14.62],[8770,14.57],[8776,14.53],[8782,14.68],[8788,14.59],[8794,14.56],[8800,14.64],[8806,14.54],[8812,14.70],[8818,14.80,0.04],[8822,14.58],[8826,14.60],[8830,14.55],
];
const G_LATE = [
[8968,14.67],[8972,14.65],[8976,14.70],[8980,14.63],[8984,14.68],[8988,14.72],[8992,14.66],[8996,14.76],[9000,14.69],[9004,14.82],[9008,14.73],[9012,14.88],[9016,14.70],[9020,14.75],[9024,14.92],[9028,14.80],[9032,15.06],[9036,14.85],[9040,15.02],[9044,14.78],[9048,14.90],[9052,15.04],[9056,14.96],[9060,15.07],[9064,14.87],[9068,15.00],[9072,15.03],[9080,14.93],[9090,15.05],[9100,14.99],[9110,15.01],[9125,15.08],[9140,14.73],[9150,14.78],[9160,14.82],[9170,14.95],[9180,15.04],[9190,15.10],[9195,15.15],[9200,14.92],[9205,15.08],[9210,15.12],[9215,14.85],[9220,15.00],
[9302,15.04],[9306,15.12],[9310,15.08],[9314,14.95],[9318,15.10],[9322,15.02],[9326,14.90],[9330,15.06],[9334,15.13],[9338,14.98],[9342,15.04],[9346,14.84],[9350,15.09],[9354,15.00],[9358,15.11],[9362,14.96],[9366,15.05],[9370,15.14],[9374,14.99],[9378,15.07],[9382,14.93],[9386,15.03],[9390,15.10],[9394,14.97],[9398,15.06],[9402,15.01],[9406,14.92],[9410,15.08],[9414,15.03],[9418,14.95],[9422,15.05],[9426,15.12],[9430,14.98],[9434,15.02],[9438,14.89],[9442,15.06],[9446,15.00],[9450,14.94],[9455,15.04],[9460,14.97],[9465,15.09],[9470,14.91],[9475,15.02],[9480,14.96],[9485,15.07],[9490,14.93],[9495,14.99],[9500,15.05],[9505,14.90],[9510,14.98],[9515,15.03],[9520,14.88],[9525,14.95],[9530,15.01],[9535,14.92],[9540,15.06],[9545,14.86],[9550,14.97],[9555,15.02],[9560,14.90],[9565,14.95],[9570,15.00],[9575,14.82],[9580,15.10,0.05],
[9664,14.73],[9668,14.93],[9672,14.88],[9676,14.96],[9680,14.85],[9690,14.91],[9694,14.85],[9698,14.99],[9702,14.87],[9706,14.92],[9710,14.84],[9716,15.28,0.08],[9718,15.11,0.05],[9722,14.88],[9726,14.94],[9730,14.86],[9734,14.91],[9738,14.89],[9742,14.95],[9746,14.87],[9750,14.92],[9754,15.04],[9758,14.88],[9762,14.93],[9766,14.90],[9770,14.85],[9774,14.94],[9778,14.88],[9782,14.89],[9786,14.91],[9790,14.87],[9794,14.93],[9798,14.90],[9806,14.96],[9812,14.88],[9818,14.92],[9824,15.02],[9830,14.89],[9837,14.70,0.06],[9842,14.86],[9848,15.07],[9854,14.91],[9860,14.88],[9866,14.95],[9872,14.90],[9878,14.97],[9884,14.87],[9890,14.92],[9896,14.89],[9902,14.94],[9908,14.86],[9912,14.71],[9918,14.91],[9924,14.88],[9930,14.84],[9938,14.77],
[10026,14.97],[10030,14.86],[10034,15.01],[10038,14.84],[10042,14.80],[10046,14.90],[10050,14.82],[10054,14.78],[10058,14.92],[10064,14.63,0.04],[10066,14.87],[10070,14.76],[10074,14.84],[10078,14.91],[10082,14.79],[10086,14.86],[10090,14.75],[10094,14.83],[10098,14.89],[10102,14.81],[10106,14.87],[10110,14.77],[10114,14.85],[10118,14.80],[10122,14.72],[10126,14.83],[10131,15.16,0.04],[10135,14.78],[10140,14.82],[10150,14.80],[10160,14.76],[10168,14.81],
];

const H_OBS = [
[6662,13.74],[6666,13.78],[6670,13.80],[6676,13.75],[6682,13.84],[6686,13.87],
[6836,14.05],[6842,14.07],[6848,14.06],[6854,14.09],[6860,14.08],[6866,14.11],[6872,14.10],[6878,14.13],[6884,14.16],[6890,14.14],[6896,14.17],[6902,14.15],[6908,14.18],[6914,14.16],[6920,14.19],[6926,14.17],[6932,14.15],[6938,14.18],[6944,14.16],[6950,14.20],[6956,14.19],[6962,14.22],[6968,14.21],[6974,14.24],[6980,14.23],[6986,14.26],[6992,14.28],[6998,14.29],[7004,14.28],[7010,14.30],[7016,14.29],[7022,14.27],[7028,14.28],[7034,14.25],[7040,14.26],[7046,14.23],[7052,14.24],[7058,14.21],[7064,14.22],[7070,14.19],[7076,14.20],[7082,14.17],[7088,14.18],[7094,14.16],[7100,14.15],[7108,14.16],[7116,14.14],[7124,14.15],
[7212,14.17],[7218,14.20],[7224,14.23],[7230,14.26],[7236,14.19],[7242,14.16],[7248,14.14],[7254,14.17],[7260,14.12],[7266,14.15],[7272,14.11],[7278,14.13],[7284,14.10],[7290,14.12],[7296,14.09],[7302,14.11],[7308,14.08],[7314,14.10],[7320,14.08],[7326,14.11],[7332,14.13],[7338,14.12],[7344,14.15],[7350,14.14],[7356,14.17],[7362,14.16],[7368,14.19],[7374,14.15],[7380,14.18],[7386,14.13],[7392,14.16],[7398,14.14],[7404,14.17],[7410,14.16],[7416,14.19],[7422,14.18],[7428,14.21],[7434,14.20],[7440,14.24],[7446,14.23],[7452,14.27],[7458,14.26],[7464,14.30],[7470,14.31],[7476,14.33],
[7560,14.31],[7566,14.29],[7572,14.26],[7578,14.27],[7584,14.23],[7590,14.21],[7596,14.22],[7602,14.19],[7608,14.20],[7614,14.18],[7620,14.17],[7626,14.19],[7632,14.22],[7638,14.21],[7644,14.25],[7650,14.24],[7656,14.28],[7662,14.27],[7668,14.30],[7674,14.29],[7680,14.32],[7686,14.31],[7692,14.34],[7698,14.33],[7704,14.35],[7710,14.34],[7716,14.36],[7722,14.38],[7728,14.37],[7734,14.39],[7740,14.37],[7746,14.40],[7752,14.38],[7758,14.41],[7764,14.39],[7770,14.43],[7776,14.47],[7782,14.50],[7788,14.53],[7794,14.55],[7800,14.51],[7806,14.48],[7812,14.45],[7818,14.43],[7824,14.46],[7830,14.42],[7836,14.44],[7842,14.43],
[7936,14.42],[7942,14.45],[7948,14.44],[7954,14.47],[7960,14.49],[7966,14.46],[7972,14.50],[7978,14.52],[7984,14.48],[7990,14.53],[7996,14.55],[8002,14.51],[8008,14.57],[8014,14.54],[8016,14.81],[8020,14.50],[8026,14.46],[8032,14.42],[8038,14.40],[8042,14.65],[8044,14.37],[8050,14.40],[8054,14.61],[8056,14.36],[8062,14.33],[8066,14.59],[8068,14.38],[8074,14.35],[8078,14.63],[8080,14.31],[8086,14.36],[8092,14.33],[8098,14.29],[8104,14.34],[8110,14.31],[8116,14.27],[8120,14.33],[8126,14.30],[8130,14.54],[8132,14.28],[8138,14.32],[8140,14.58],[8144,14.29],[8150,14.27],[8156,14.31],[8162,14.26],[8168,14.30],[8174,14.25],[8180,14.28],[8186,14.24],[8192,14.27],[8198,14.25],[8204,14.29],[8210,14.26],
[8296,14.36],[8300,14.51,0.02],[8302,14.33],[8308,14.30],[8314,14.34],[8316,14.60],[8320,14.28],[8326,14.32],[8332,14.26],[8338,14.30],[8344,14.24],[8350,14.29],[8356,14.19],[8362,14.27],[8368,14.22],[8374,14.30],[8380,14.25],[8386,14.33],[8392,14.27],[8398,14.22],[8404,14.36],[8410,14.29],[8416,14.24],[8422,14.31],[8428,14.26],[8434,14.34],[8440,14.39],[8446,14.28],[8452,14.23],[8458,14.31],[8464,14.26],[8470,14.36],[8476,14.29],[8482,14.22],[8488,14.33],[8494,14.40],[8500,14.27],[8506,14.24],[8512,14.32],[8518,14.28],[8524,14.37],[8530,14.25],[8536,14.30],[8542,14.42],[8548,14.27],[8554,14.23],[8560,14.33],[8566,14.29],[8572,14.45],[8576,14.26],
[8660,14.22],[8664,14.28],[8668,14.19],[8672,14.25],[8676,14.30],[8680,14.21],[8684,14.47],[8688,14.24],[8692,14.18],[8696,14.27],[8700,14.22],[8704,14.38],[8708,14.20],[8712,14.26],[8716,14.17],[8720,14.23],[8724,14.29],[8728,14.21],[8732,14.39],[8736,14.25],[8740,14.18],[8744,14.24],[8748,14.20],[8752,14.27],[8756,14.22],[8760,14.16],[8764,14.23],[8768,14.43],[8772,14.19],[8776,14.25],[8780,14.21],[8784,14.28],[8788,14.15],[8792,14.22],[8796,14.18],[8800,14.26],[8804,14.20],[8808,14.24],[8812,14.17],[8816,14.23],[8820,14.19],[8824,14.27],[8828,14.21],[8832,14.37],[8836,14.24],[8840,14.20],[8844,14.26],[8848,14.12],[8852,14.22],[8856,14.28],[8860,14.21],[8866,14.25],[8874,14.07],[8878,14.24],[8884,14.29],[8890,14.22],[8896,14.26],[8902,14.21],[8908,14.27],[8914,14.23],[8920,14.25],
[9020,14.22],[9026,14.27],[9032,14.19],[9038,14.24],[9044,14.17],[9050,14.21],[9056,14.29],[9062,14.15],[9068,14.20],[9074,14.13],[9080,14.18],[9086,14.31],[9092,14.12],[9098,14.16],[9104,14.10],[9110,14.14],[9116,14.08],[9122,14.12],[9128,14.06],[9134,14.10],[9140,14.04],[9146,14.08],[9152,14.02],[9158,14.05],[9164,13.99],[9170,14.03],[9176,13.96],[9182,14.00],[9188,13.93],[9194,13.97],[9200,13.91],[9206,13.95],[9212,13.89],[9218,13.92],[9224,13.87],[9230,13.90],[9236,13.85],[9242,13.82],[9248,13.84],[9254,13.79],[9260,13.81],[9266,13.76],[9272,13.78],[9278,13.73],[9284,13.75],[9290,13.70],[9296,13.72],[9302,13.67],[9308,13.66],[9312,13.64],
[9382,13.52],[9386,13.50],[9390,13.55],[9394,13.53],[9398,13.58],[9402,13.56],[9406,13.61],[9410,13.59],[9414,13.63],[9418,13.60],[9422,13.57],[9426,13.53],[9430,13.49],[9434,13.46],[9438,13.50],[9442,13.44],[9446,13.47],[9450,13.42],[9454,13.45],[9458,13.40],[9462,13.43],[9466,13.38],[9470,13.41],[9474,13.36],[9478,13.40],[9482,13.43],[9486,13.38],[9490,13.34],[9494,13.30],[9498,13.37],[9502,13.41],[9506,13.45],[9510,13.42],[9514,13.48],[9518,13.44],[9522,13.40],[9526,13.46],[9530,13.42],[9534,13.38],[9538,13.43],[9542,13.47],[9546,13.41],[9550,13.37],[9554,13.42],[9558,13.45],[9562,13.40],[9566,13.36],[9570,13.41],[9574,13.44],[9578,13.39],[9582,13.35],[9586,13.40],[9590,13.43],[9594,13.38],[9598,13.34],[9602,13.39],[9606,13.42],[9610,13.37],[9614,13.33],[9618,13.38],[9622,13.42],[9626,13.36],[9630,13.40],[9636,13.35],[9642,13.41],[9648,13.37],[9654,13.43],[9660,13.39],[9666,13.44],[9672,13.40],
[9744,13.26],[9748,13.30],[9752,13.23],[9756,13.35],[9760,13.28],[9764,13.38],[9768,13.32],[9772,13.25],[9776,13.40],[9780,13.34],[9784,13.29],[9788,13.36],[9792,13.31],[9796,13.27],[9800,13.33],[9804,13.22],[9808,13.29],[9812,13.35],[9816,13.25],[9820,13.31],[9824,13.26],[9828,13.21],[9832,13.28],[9836,13.33],[9840,13.24],[9844,13.30],[9848,13.36],[9852,13.27],[9858,12.985,0.01],[9860,13.32],[9864,13.38],[9868,13.29],[9872,13.34],[9876,13.40],[9880,13.31],[9884,13.36],[9888,13.43],[9892,13.33],[9896,13.38],[9900,13.45],[9904,13.35],[9908,13.40],[9912,13.47],[9916,13.37],[9920,13.42],[9924,13.30],[9928,13.36],[9932,13.41],[9936,13.33],[9940,13.38],[9944,13.43],[9948,13.35],[9952,13.40],[9956,13.46],[9960,13.37],[9964,13.42],[9968,13.48],[9972,13.39],[9976,13.44],[9980,13.50],[9984,13.41],[9988,13.46],[9992,13.52],[9996,13.48],[10000,13.54],[10006,13.50],[10012,13.56],[10018,13.52],
[10104,13.61],[10108,13.64],[10112,13.67],[10116,13.70],[10120,13.73],[10124,13.76],[10128,13.79],[10132,13.77],[10136,13.81],[10140,13.84],[10144,13.80],[10148,13.83],[10152,13.86],[10156,13.82],
];

const I_OBS = [
[7105,12.93],[7110,13.05],[7115,13.02],[7120,13.08],[7125,12.99],[7130,13.06],[7135,13.11],[7140,13.03],[7145,12.96],[7150,13.08],[7155,13.13],[7160,13.01],[7165,13.06],[7170,12.98],[7175,13.10],[7180,13.04],[7185,13.12],[7190,13.00],[7195,13.07],[7200,13.02],[7205,13.09],[7210,12.97],[7215,13.05],[7220,13.11],[7225,13.03],[7230,13.08],[7235,13.00],[7240,13.12],[7245,13.06],[7250,13.04],[7255,13.09],[7262,13.01],[7270,13.06],[7278,13.03],[7286,13.08],[7294,13.05],
[7468,13.05],[7474,12.97],[7480,13.03],[7486,12.94],[7492,13.08],[7498,13.12],[7504,13.00],[7510,12.92],[7516,13.06],[7522,13.10],[7528,12.99],[7534,13.04],[7540,12.91],[7546,13.08],[7552,13.11],[7558,12.96],[7564,13.02],[7570,13.07],[7576,12.90],[7582,13.05],[7588,13.10],[7594,12.98],[7600,13.03],[7606,13.11],[7612,12.95],[7618,13.06],[7624,12.89],[7630,13.01],[7636,13.09],[7642,12.93],[7648,13.04],[7655,13.11],[7662,12.97],[7670,13.06],[7680,12.92],[7690,13.02],[7700,13.10],[7710,12.95],[7716,13.05],
[7828,12.98],[7834,13.06],[7840,13.01],[7846,13.12],[7852,12.94],[7858,13.04],[7864,13.09],[7870,12.96],[7876,13.02],[7882,13.11],[7888,12.92],[7894,13.05],[7900,13.08],[7906,12.99],[7912,12.89],[7918,13.03],[7924,13.09],[7930,12.95],[7936,13.00],[7942,13.07],[7948,12.90],[7954,13.04],[7960,13.09],[7966,12.97],[7972,13.02],[7978,12.93],[7984,13.06],[7990,13.01],[7996,12.98],[8002,13.08],[8010,12.96],[8020,13.03],[8030,12.99],[8040,13.09],[8050,12.94],[8060,13.02],[8070,13.10],[8078,12.95],
[8204,12.90],[8208,13.06],[8212,12.87],[8216,13.02],[8220,12.94],[8224,13.08],[8228,12.89],[8232,13.05],[8236,12.92],[8240,12.85],[8244,13.07],[8248,12.97],[8252,13.04],[8256,12.91],[8260,13.09],[8264,12.88],[8268,13.01],[8272,12.95],[8276,13.06],[8280,12.93],[8284,12.99],[8288,13.08],[8292,12.90],[8296,13.03],[8300,12.96],[8304,12.86],[8308,13.00],[8312,12.93],[8316,13.05],[8320,12.89],[8324,12.98],[8328,13.02],[8332,12.92],[8336,12.87],[8340,13.00],[8345,12.95],[8350,13.04],[8355,12.90],[8360,12.97],[8365,12.93],[8370,13.01],[8375,12.88],[8380,12.96],[8385,12.91],[8390,12.99],[8395,12.94],[8400,12.89],[8405,13.02],[8410,12.92],[8415,12.97],[8420,12.90],[8425,12.95],[8430,12.86],[8435,12.99],[8440,12.93],[8445,12.97],[8450,12.91],[8455,12.95],[8460,12.90],[8466,12.94],
[8566,13.02],[8570,12.92],[8574,13.08],[8578,12.98],[8582,13.06],[8586,12.88],[8590,13.03],[8594,13.10],[8598,12.95],[8602,13.00],[8606,12.85],[8610,13.05],[8614,12.93],[8618,13.08],[8622,12.78],[8626,13.01],[8630,12.97],[8634,13.12],[8638,12.90],[8642,13.04],[8646,12.87],[8650,13.00],[8654,13.07],[8658,12.94],[8662,12.81],[8666,13.02],[8670,13.15],[8674,12.96],[8678,13.05],[8682,12.89],[8686,13.10],[8690,12.99],[8694,12.83],[8698,13.03],[8702,13.18],[8706,12.93],[8710,13.06],[8714,12.98],[8718,13.13],[8722,12.91],[8726,13.04],[8730,13.20],[8734,12.97],[8738,13.08],[8742,12.87],[8746,13.01],[8750,13.16],[8754,12.95],[8758,13.07],[8762,13.22],[8766,12.99],[8770,13.11],[8775,12.93],[8780,13.05],[8785,13.18],[8790,12.96],[8795,13.09],[8800,13.02],[8805,12.94],[8810,13.13],[8815,13.04],[8820,12.97],[8825,13.08],[8830,13.15],[8835,13.01],[8840,13.06],[8844,13.15],
[8926,13.27],[8930,13.18],[8934,12.99],[8938,13.30],[8942,13.09],[8946,13.22],[8950,13.12],[8954,13.26],[8958,13.04],[8962,13.16],[8966,13.30],[8970,13.10],[8974,13.21],[8978,13.36],[8982,13.13],[8986,13.25],[8990,13.07],[8994,13.18],[8998,13.32],[9002,13.14],[9006,13.38],[9010,13.20],[9014,13.09],[9018,13.27],[9022,13.16],[9026,13.34],[9030,13.11],[9034,13.23],[9038,13.05],[9042,13.19],[9046,13.29],[9050,13.02],[9054,13.15],[9058,13.24],[9062,13.35],[9066,13.12],[9070,13.21],[9074,13.00],[9078,13.17],[9082,13.28],[9086,13.08],[9090,13.20],[9094,13.31],[9098,13.13],[9102,13.24],[9106,13.41],[9110,13.18],[9114,13.26],[9118,13.05],[9122,13.15],[9126,13.22],[9130,13.33],[9135,13.10],[9140,13.20],[9145,13.00],[9150,13.14],[9155,13.25],[9160,13.36],[9168,13.44],[9176,13.46],[9185,13.08],[9195,13.20],
[9288,13.00],[9292,13.07],[9296,13.16],[9300,13.25],[9304,13.08],[9308,13.21],[9312,13.35],[9316,13.14],[9320,13.44],[9324,13.19],[9328,13.30],[9332,13.12],[9336,13.26],[9340,13.40],[9344,13.17],[9348,13.28],[9352,13.15],[9356,13.33],[9360,13.22],[9364,13.11],[9368,13.29],[9372,13.37],[9376,13.18],[9380,13.25],[9384,13.42],[9388,13.31],[9392,13.20],[9396,13.34],[9400,13.26],[9404,13.16],[9408,13.30],[9412,13.38],[9416,13.23],[9420,13.32],[9424,13.19],[9428,13.28],[9432,13.36],[9436,13.24],[9440,13.31],[9444,13.21],[9448,13.33],[9452,13.27],[9456,13.17],[9460,13.30],[9464,13.25],[9468,13.35],[9472,13.22],[9476,13.29],[9480,13.33],[9485,13.20],[9490,13.27],[9495,13.36],[9500,13.24],[9505,13.31],[9510,13.19],[9515,13.28],[9520,13.34],[9525,13.22],[9530,13.30],[9535,13.26],[9540,13.33],[9545,13.21],[9550,13.29],[9555,13.25],[9560,13.32],[9565,13.27],
[9638,13.25],[9642,13.09],[9646,13.32],[9650,13.18],[9654,13.41],[9658,13.27],[9662,13.14],[9666,13.35],[9670,13.22],[9674,13.38],[9678,13.29],[9682,13.16],[9686,13.33],[9690,13.24],[9694,13.40],[9698,13.20],[9702,13.30],[9706,13.12],[9710,13.36],[9714,13.25],[9718,13.19],[9722,13.31],[9726,13.43],[9730,13.22],[9734,13.28],[9738,13.10],[9742,13.35],[9746,13.17],[9750,13.26],[9754,13.06],[9758,13.32],[9762,13.21],[9766,13.46],[9770,13.14],[9774,13.29],[9778,13.00],[9782,13.38],[9786,13.19],[9790,13.44],[9794,13.27],[9798,13.12],[9802,13.55],[9806,13.24],[9810,13.58],[9814,13.33],[9818,13.60],[9822,13.18],[9826,13.30],[9830,13.57],[9834,13.22],[9838,13.43],[9842,13.15],[9846,13.35],[9850,13.25],[9855,13.10],[9860,13.30],[9870,13.20],[9880,13.27],[9890,13.15],[9900,13.33],[9910,13.22],[9920,13.18],[9930,13.28],[9940,13.24],
[10012,13.41],[10016,13.20],[10020,13.48],[10024,13.30],[10028,13.38],[10032,13.23],[10036,13.45],[10040,13.19],[10044,13.35],[10048,13.49],[10052,13.28],[10056,13.64],[10060,13.40],[10066,13.12],[10072,13.43],[10078,13.30],[10084,13.36],[10090,13.24],[10096,13.47],[10102,13.27],[10108,13.33],[10114,13.22],[10120,13.29],[10126,13.38],[10132,13.55],[10136,13.43],[10140,13.30],[10146,13.59],[10150,13.41],[10154,13.61],[10158,13.36],
];

const J_OBS = [
[7412,14.29],[7416,14.26],[7420,14.30],[7424,14.27],[7428,14.31],[7432,14.25],[7436,14.28],[7440,14.24],[7444,14.29],[7448,14.27],[7452,14.30],[7456,14.32],[7460,14.28],[7464,14.26],[7470,14.285],[7480,14.275],
[7546,14.21],[7555,14.265],[7565,14.275],
[7640,14.175],[7646,14.22],[7652,14.25],[7658,14.20],[7664,14.24],[7670,14.27],[7676,14.19],[7682,14.23],[7688,14.16],[7694,14.26],[7700,14.21],[7706,14.28],[7712,14.18],[7718,14.24],[7724,14.15],[7730,14.22],[7736,14.27],[7742,14.14],[7748,14.20],[7754,14.25],[7760,14.17],[7766,14.23],[7772,14.29],[7778,14.19],[7784,14.16],[7790,14.24],[7796,14.21],[7802,14.27],[7808,14.18],[7814,14.23],[7820,14.20],[7826,14.26],[7832,14.22],[7838,14.30],[7844,14.19],[7850,14.24],[7856,14.21],[7862,14.25],[7870,14.27],[7880,14.22],[7890,14.24],[7900,14.20],[7910,14.23],[7920,14.26],[7930,14.22],
[8002,14.19],[8008,14.22],[8014,14.25],[8020,14.18],[8026,14.23],[8032,14.27],[8038,14.20],[8044,14.16],[8050,14.24],[8056,14.21],[8062,14.26],[8068,14.18],[8074,14.23],[8080,14.28],[8086,14.22],[8092,14.19],[8098,14.25],[8104,14.21],[8110,14.17],[8116,14.24],[8122,14.20],[8128,14.26],[8134,14.23],[8140,14.18],[8146,14.22],[8152,14.25],[8158,14.20],[8164,14.16],[8170,14.22],[8174,14.24],
[8228,14.19],[8270,14.155],[8280,14.125],[8292,14.06],
[8364,14.14],[8368,14.11],[8372,14.08],[8376,14.13],[8380,14.10],[8384,14.05],[8388,14.02],[8392,14.09],[8396,14.12],[8400,14.04],[8404,14.07],[8408,14.11],[8412,14.01],[8416,14.06],[8420,14.09],[8424,14.03],[8428,14.12],[8432,14.00],[8436,14.05],[8440,14.08],[8444,14.02],[8448,14.10],[8452,13.99],[8456,14.04],[8460,14.07],[8464,14.01],[8468,14.06],[8472,14.11],[8476,14.03],[8480,13.98],[8484,14.05],[8488,14.08],[8492,14.00],[8496,14.04],[8500,13.97],[8504,14.02],[8508,14.06],[8512,13.99],[8516,14.03],[8520,14.08],[8525,14.01],[8530,13.96],[8535,14.03],[8540,14.07],[8545,13.99],[8550,14.02],[8555,14.05],[8560,13.98],[8570,14.03],[8580,14.06],[8590,13.99],[8600,14.02],[8610,13.97],[8620,14.01],[8630,13.95],[8640,14.00],[8650,13.96],[8660,13.91],[8670,13.97],[8680,14.02],
[8740,13.99],[8744,13.96],[8748,14.01],[8752,13.97],[8756,14.03],[8760,13.94],[8764,13.99],[8768,14.05],[8772,13.96],[8776,14.02],[8780,13.92],[8784,13.98],[8788,14.04],[8792,13.95],[8796,14.00],[8800,14.06],[8804,13.97],[8808,14.02],[8812,13.93],[8816,13.99],[8820,14.04],[8824,13.96],[8828,14.01],[8832,14.08],[8836,13.97],[8840,14.03],[8845,13.95],[8850,14.00],[8855,14.08],[8860,13.98],[8865,14.02],[8870,13.96],[8880,14.01],[8890,13.97],[8900,14.03],[8910,13.98],[8920,14.00],
[8970,13.96],[8985,13.99],[9000,13.975],[9015,14.00],[9025,13.94],[9030,13.96],
[9100,14.01],[9104,13.97],[9108,14.00],[9112,13.95],[9116,13.98],[9120,13.94],[9124,13.97],[9128,14.00],[9132,13.96],[9136,13.93],[9140,13.97],[9144,14.01],[9148,13.95],[9152,13.92],[9156,13.96],[9160,13.99],[9164,13.94],[9168,13.97],[9172,13.91],[9176,13.95],[9180,14.00],[9184,13.96],[9188,13.93],[9192,13.97],[9196,13.94],[9200,13.99],[9205,13.95],[9210,13.92],[9215,13.96],[9220,13.93],[9225,13.98],[9230,13.94],[9235,13.97],[9240,13.95],[9245,13.92],[9250,13.96],[9260,13.94],[9270,13.98],[9280,13.93],[9290,13.96],[9300,13.92],[9310,13.95],[9320,13.97],[9330,13.94],[9340,13.96],[9350,13.93],[9360,13.97],[9370,13.95],[9380,13.94],[9390,13.98],[9400,13.96],
[9436,13.98],[9440,14.00],[9444,13.96],[9448,13.99],[9452,13.97],[9456,14.01],[9460,13.95],[9464,13.98],[9468,14.00],[9472,13.96],[9476,13.99],[9480,13.97],[9484,14.02],[9488,13.95],[9492,13.98],[9496,13.96],[9500,14.00],[9505,13.97],[9510,13.99],[9515,13.95],[9520,13.98],[9525,14.01],[9530,13.96],[9535,13.99],[9540,13.97],[9545,14.00],[9550,13.95],[9555,13.98],[9560,13.96],[9565,14.01],[9570,13.97],[9575,13.99],[9580,13.95],[9585,13.98],[9590,14.00],[9595,13.96],[9600,13.99],[9610,13.97],[9620,14.00],[9630,13.96],[9643,13.87],[9650,14.02],[9660,13.97],[9672,14.08,0.03],[9676,14.12,0.04],[9680,13.99],[9690,13.97],[9700,14.00],[9708,13.85],[9715,13.96],[9725,13.98],[9735,13.95],[9745,13.99],[9752,13.97],
[9810,13.97],[9814,13.95],[9818,13.99],[9822,13.96],[9826,14.00],[9830,13.94],[9834,13.98],[9842,13.92],[9846,13.96],[9850,13.87],[9854,13.93],[9858,13.97],[9862,14.00],[9866,13.95],[9870,13.98],[9878,13.94],[9882,13.96],[9886,13.97],[9890,14.05],[9894,13.95],[9898,13.98],[9903,13.86],[9906,13.96],[9910,14.00],[9914,13.94],[9918,13.98],[9922,13.96],[9926,14.01],[9930,13.95],[9935,13.99],[9940,13.97],[9945,14.02],[9950,13.96],[9955,13.98],[9960,13.95],[9965,14.00],[9970,13.87],[9975,13.99],[9980,13.94],[9985,13.98],[9990,14.01],[9995,13.96],[10000,13.99],[10010,13.95],[10020,13.98],[10030,13.93],[10040,13.96],[10051,13.88],[10060,13.97],[10070,13.99],[10080,13.94],[10090,13.97],[10100,14.01],[10110,13.95],[10120,13.93],[10128,14.00],
];

const K_OBS = [
[7452,14.27],[7456,14.20],[7460,14.10],[7463,14.15],[7466,14.24],[7470,14.30],[7478,14.19],[7488,14.11],[7500,14.25],[7510,14.23],[7520,14.21],[7530,14.26],[7540,14.18],[7550,14.24],[7560,14.21],[7570,14.27],[7580,14.22],[7590,14.25],[7600,14.24],[7610,14.30],[7620,14.21],[7630,14.18],[7640,14.23],[7650,14.25],[7660,14.22],[7670,14.18],
[7775,14.14],[7780,14.18],[7784,14.34],[7788,14.23],[7792,14.16],[7796,14.27],[7800,14.21],[7804,14.31],[7808,14.15],[7812,14.25],[7816,14.19],[7820,14.29],[7824,14.22],[7828,14.34],[7832,14.17],[7836,14.26],[7840,14.20],[7844,14.30],[7848,14.13],[7852,14.24],[7856,14.21],[7860,14.28],[7864,14.19],[7868,14.23],[7872,14.32],[7876,14.20],[7880,14.25],[7884,14.18],[7890,14.22],[7896,14.33],[7902,14.20],[7908,14.24],[7914,14.19],[7920,14.22],[7926,14.18],[7932,14.21],[7938,14.19],[7944,14.17],[7950,14.20],[7956,14.18],[7962,14.16],[7968,14.19],[7974,14.17],[7980,14.19],[7990,14.18],[8000,14.17],[8010,14.25],[8020,14.19],[8030,14.29],[8040,14.18],
[8150,14.18],[8154,14.20],[8158,14.24],[8162,14.17],[8166,14.29],[8170,14.22],[8174,14.33],[8178,14.19],[8182,14.26],[8186,14.14],[8190,14.30],[8194,14.21],[8198,14.25],[8202,14.13],[8206,14.18],[8210,14.35],[8214,14.20],[8218,14.27],[8222,14.15],[8230,14.23],[8250,14.17],[8256,14.22],[8260,14.14],[8264,14.26],[8268,14.19],[8272,14.30],[8276,14.16],[8280,14.23],[8284,14.33],[8288,14.39],[8292,14.25],[8296,14.14],[8300,14.28],[8304,14.20],[8308,14.12],[8312,14.24],[8316,14.18],[8320,14.15],[8330,14.21],[8340,14.25],[8360,14.27],[8370,14.30],[8389,14.44],[8391,14.43],[8393,14.51],[8400,14.27],
[8512,14.33],[8516,14.12],[8520,14.38],[8524,14.20],[8528,14.27],[8532,14.15],[8536,14.31],[8540,14.22],[8544,14.36],[8548,14.18],[8552,14.26],[8556,14.30],[8560,14.13],[8564,14.24],[8568,14.40],[8572,14.21],[8576,14.29],[8580,14.17],[8584,14.33],[8588,14.25],[8592,14.19],[8596,14.31],[8600,14.27],[8604,14.22],[8608,14.35],[8612,14.28],[8616,14.20],[8620,14.32],[8624,14.26],[8628,14.37],[8632,14.23],[8636,14.30],[8640,14.19],[8644,14.34],[8648,14.27],[8652,14.31],[8656,14.22],[8660,14.29],[8664,14.38],[8668,14.25],[8672,14.33],[8676,14.21],[8680,14.30],[8684,14.27],[8688,14.36],[8692,14.24],[8696,14.32],[8700,14.28],[8705,14.35],[8710,14.26],[8715,14.31],[8720,14.38],[8725,14.29],[8730,14.34],[8735,14.27],[8740,14.37],[8745,14.30],[8750,14.25],[8755,14.33],[8760,14.38],[8765,14.29],[8770,14.36],[8775,14.32],
[8888,14.23],[8892,14.27],[8896,14.19],[8900,14.25],[8904,14.30],[8908,14.35],[8912,14.39],[8920,14.33],[8940,14.29],[8950,14.38],[8960,14.31],[8970,14.34],[8980,14.44],[8985,14.45],[8992,14.25],[9000,14.28],[9005,14.36],[9010,14.24],[9019,14.51,0.03],[9025,14.32],[9030,14.37],[9040,14.30],[9050,14.26],[9060,14.33],[9070,14.38],[9080,14.36],[9090,14.37],[9115,14.37],[9124,14.38],
[9236,14.44],[9240,14.31],[9244,14.50],[9248,14.38],[9252,14.59],[9256,14.42],[9260,14.25],[9264,14.47],[9268,14.35],[9272,14.40],[9276,14.21],[9280,14.44],[9284,14.37],[9288,14.52],[9292,14.40],[9296,14.33],[9300,14.46],[9304,14.38],[9308,14.22],[9312,14.42],[9316,14.36],[9320,14.49],[9324,14.41],[9328,14.32],[9332,14.55],[9336,14.44],[9340,14.61,0.03],[9344,14.38],[9348,14.30],[9352,14.46],[9356,14.39],[9360,14.24],[9364,14.41],[9368,14.34],[9372,14.50],[9376,14.42],[9380,14.33],[9385,14.47],[9390,14.36],[9395,14.29],[9400,14.44],[9405,14.52],[9410,14.37],[9415,14.31],[9420,14.45],[9425,14.39],[9430,14.28],[9435,14.42],[9440,14.35],[9445,14.48],[9450,14.40],[9455,14.30],[9460,14.45],[9465,14.37],[9470,14.49],[9475,14.33],[9480,14.42],[9485,14.36],[9490,14.46],[9495,14.39],[9500,14.30],[9505,14.44],[9510,14.52],
[9596,14.45],[9600,14.35],[9604,14.49],[9608,14.25],[9612,14.36],[9616,14.23],[9620,14.40],[9624,14.52],[9628,14.34],[9632,14.46],[9636,14.58],[9640,14.37],[9644,14.42],[9648,14.31],[9652,14.50],[9656,14.61],[9660,14.39],[9664,14.45],[9668,14.33],[9672,14.54],[9676,14.66,0.04],[9680,14.41],[9684,14.72,0.04],[9688,14.48],[9692,14.36],[9696,14.56],[9700,14.43],[9704,14.62,0.03],[9708,14.38],[9712,14.51],[9716,14.30],[9720,14.45],[9724,14.40],[9728,14.55],[9732,14.35],[9736,14.47],[9740,14.42],[9744,14.58],[9748,14.37],[9752,14.33],[9756,14.49],[9760,14.44],[9764,14.56],[9768,14.39],[9771,14.09,0.05],[9776,14.62],[9780,14.41],[9784,14.35],[9788,14.52],[9792,14.44],[9796,14.59],[9800,14.40],[9810,14.48],[9820,14.37],[9830,14.45],[9840,14.55],[9850,14.42],[9860,14.38],[9870,14.47],[9880,14.40],[9888,14.44],
[9958,14.47],[9962,14.42],[9966,14.50],[9970,14.37],[9974,14.45],[9978,14.40],[9982,14.53],[9986,14.35],[9990,14.44],[9994,14.56],[9998,14.39],[10002,14.47],[10006,14.33],[10011,14.80,0.05],[10014,14.50],[10018,14.38],[10022,14.46],[10026,14.55],[10030,14.40],[10034,14.36],[10038,14.49],[10042,14.43],[10046,14.58],[10050,14.41],[10054,14.47],[10058,14.62,0.03],[10062,14.38],[10066,14.45],[10070,14.52],[10074,14.40],[10078,14.34],[10082,14.44],[10086,14.31],[10090,14.42],[10094,14.38],[10100,14.46],[10108,14.40],[10115,14.48],
];

const L_OBS = [
[7412,13.42],[7416,13.49],[7420,13.45],[7424,13.60],[7428,13.48],[7432,13.62],[7436,13.46],[7440,13.56],[7444,13.43],[7448,13.47],[7452,13.52],[7460,13.45],[7518,13.41],[7525,13.44],[7532,13.50],[7540,13.53],[7560,13.63],[7568,13.66],[7593,13.47],
[7680,13.57],[7684,13.64],[7688,13.68],[7692,13.46],[7696,13.61],[7700,13.70],[7704,13.50],[7708,13.42],[7712,13.63],[7716,13.55],[7720,13.47],[7724,13.66],[7728,13.58],[7732,13.44],[7736,13.60],[7740,13.52],[7744,13.69],[7748,13.48],[7752,13.62],[7756,13.55],[7760,13.43],[7764,13.59],[7768,13.66],[7772,13.51],[7776,13.45],[7780,13.60],[7784,13.54],[7788,13.72],[7792,13.49],[7796,13.63],[7800,13.56],[7804,13.44],[7808,13.61],[7812,13.67],[7816,13.52],[7820,13.46],[7824,13.58],[7828,13.65],[7832,13.50],[7836,13.43],[7840,13.60],[7844,13.55],[7848,13.67],[7852,13.48],[7856,13.62],[7860,13.44],[7866,13.57],[7872,13.52],[7878,13.66],[7884,13.45],[7890,13.60],[7896,13.55],[7902,13.42],[7908,13.53],[7914,13.58],[7920,13.50],[7926,13.41],[7932,13.47],[7938,13.60],[7944,13.52],[7950,13.45],[7956,13.62],
[8056,13.49],[8060,13.55],[8064,13.60],[8068,13.52],[8072,13.47],[8076,13.58],[8080,13.50],[8090,13.46],[8100,13.47],[8110,13.52],[8120,13.55],[8140,13.44],[8144,13.50],[8148,13.57],[8152,13.48],[8156,13.42],[8160,13.53],[8164,13.60],[8168,13.46],[8172,13.55],[8176,13.50],[8180,13.58],[8184,13.44],[8188,13.52],[8192,13.40],[8196,13.56],[8200,13.48],[8204,13.61],[8210,13.45],[8220,13.52],[8230,13.62],[8260,13.45],[8264,13.52],[8268,13.41],[8272,13.49],[8276,13.56],[8280,13.38],[8284,13.47],[8288,13.53],[8292,13.43],[8296,13.59],[8300,13.50],[8304,13.42],[8308,13.55],[8312,13.47],[8316,13.60],[8320,13.40],[8326,13.51],[8332,13.44],
[8418,13.35],[8422,13.48],[8426,13.40],[8430,13.33],[8434,13.52],[8438,13.44],[8442,13.37],[8446,13.50],[8450,13.42],[8454,13.34],[8458,13.46],[8462,13.39],[8466,13.53],[8470,13.41],[8474,13.35],[8478,13.47],[8482,13.43],[8486,13.31],[8490,13.49],[8494,13.38],[8498,13.44],[8502,13.36],[8506,13.51],[8510,13.40],[8514,13.33],[8518,13.46],[8522,13.42],[8526,13.55],[8530,13.37],[8534,13.45],[8538,13.32],[8542,13.48],[8546,13.41],[8550,13.35],[8554,13.50],[8558,13.43],[8562,13.30],[8566,13.46],[8570,13.39],[8574,13.53],[8578,13.36],[8582,13.44],[8586,13.58],[8590,13.40],[8594,13.47],[8598,13.34],[8602,13.52],[8606,13.42],[8610,13.37],[8614,13.49],[8618,13.45],[8622,13.56],[8626,13.38],[8630,13.47],[8634,13.33],[8640,13.50],[8646,13.43],[8652,13.55],[8658,13.40],[8664,13.59],[8670,13.46],[8676,13.52],[8682,13.36],[8688,13.48],[8694,13.44],
[8780,13.31],[8784,13.44],[8788,13.56],[8792,13.62],[8796,13.36],[8800,13.50],[8804,13.24],[8808,13.58],[8812,13.42],[8816,13.20],[8820,13.48],[8824,13.33],[8828,13.60],[8832,13.17],[8836,13.45],[8840,13.27],[8844,13.53],[8848,13.38],[8852,13.22],[8856,13.57],[8860,13.47],[8864,13.30],[8868,13.52],[8872,13.25],[8876,13.43],[8880,13.58],[8884,13.35],[8888,13.49],[8892,13.23],[8896,13.55],[8900,13.40],[8904,13.28],[8908,13.51],[8912,13.45],[8916,13.32],[8920,13.54],[8924,13.26],[8928,13.47],[8932,13.38],[8936,13.53],
[8982,13.25],[8990,13.33],[8995,13.35],[9005,13.22],[9012,13.20],[9020,13.49],[9030,13.45],[9040,13.45],[9045,13.41],
[9128,13.24],[9132,13.38],[9136,13.18],[9140,13.31],[9144,13.45],[9148,13.22],[9152,13.35],[9156,13.17],[9160,13.29],[9164,13.41],[9168,13.26],[9172,13.36],[9176,13.20],[9180,13.33],[9184,13.44],[9188,13.23],[9192,13.30],[9196,13.18],[9200,13.39],[9204,13.27],[9208,13.47],[9212,13.21],[9216,13.34],[9220,13.42],[9224,13.25],[9228,13.37],[9232,13.19],[9236,13.31],[9240,13.49],[9244,13.28],[9248,13.40],[9252,13.23],[9256,13.36],[9260,13.45],[9264,13.30],[9268,13.52],[9272,13.22],[9276,13.38],[9280,13.27],[9284,13.43],[9288,13.33],[9292,13.50],[9296,13.25],[9300,13.39],[9304,13.20],[9308,13.46],[9312,13.31],[9316,13.53],[9320,13.26],[9325,13.41],[9330,13.35],[9335,13.48],[9340,13.22],[9345,13.37],[9350,13.29],[9355,13.44],[9360,13.33],[9370,13.21],[9380,13.40],[9390,13.30],[9400,13.36],[9410,13.25],[9418,13.34],
[9490,13.35],[9494,13.26],[9498,13.42],[9502,13.22],[9506,13.31],[9510,13.45],[9514,13.28],[9518,13.37],[9522,13.20],[9526,13.33],[9530,13.46],[9534,13.25],[9538,13.39],[9542,13.29],[9546,13.43],[9550,13.23],[9554,13.34],[9558,13.48],[9562,13.27],[9566,13.40],[9570,13.21],[9574,13.36],[9578,13.30],[9582,13.44],[9586,13.25],[9590,13.38],[9594,13.32],[9598,13.47],[9602,13.26],[9606,13.35],[9610,13.41],[9614,13.23],[9618,13.37],[9622,13.29],[9626,13.43],[9630,13.19],[9634,13.33],[9638,13.27],[9642,13.39],[9646,13.22],[9650,13.30],[9654,13.45],[9658,13.24],[9662,13.35],[9666,13.18],[9670,13.28],[9674,13.40],[9678,13.21],[9682,13.32],[9686,13.17],[9690,13.26],[9694,13.36],[9698,13.19],[9702,13.29],[9706,13.23],[9710,13.33],[9716,13.20],[9722,13.27],[9728,13.22],[9734,13.30],[9740,13.18],[9746,13.25],[9752,13.45],[9758,13.21],[9764,13.48],[9770,13.24],[9776,13.28],
[9852,13.27],[9856,13.34],[9860,13.22],[9864,13.40],[9868,13.30],[9872,13.18],[9876,13.45],[9880,13.25],[9884,13.36],[9888,13.49],[9892,13.21],[9896,13.32],[9900,13.43],[9904,13.26],[9908,13.38],[9912,13.19],[9916,13.30],[9920,13.47],[9924,13.24],[9928,13.35],[9932,13.41],[9936,13.20],[9940,13.29],[9944,13.44],[9948,13.32],[9952,13.52],[9956,13.27],[9960,13.38],[9964,13.17],[9968,13.35],[9972,13.48],[9976,13.23],[9980,13.40],[9984,13.31],[9988,13.54],[9992,13.26],[9996,13.43],[10000,13.36],[10004,13.19],[10008,13.46],[10012,13.33],[10016,13.51],[10020,13.28],[10024,13.41],[10028,13.22],[10032,13.37],[10036,13.55],[10040,13.30],[10044,13.44],[10048,13.18],[10052,13.39],[10056,13.49],[10060,13.25],[10064,13.42],[10068,13.35],[10072,13.57],[10076,13.29],[10080,13.46],[10084,13.20],[10088,13.14],[10092,13.52],[10096,13.59],[10100,13.37],[10104,13.13],
];

// groups of [observations, default error] per panel
const PANEL_GROUPS: [number[][], number][][] = [
  [[A_OBS, 0.015]], [[B_OBS, 0.015]],
  [[C_OBS, 0.008]], [[D_OBS, 0.015]],
  [[E_OBS, 0.022]], [[F_OBS, 0.01]],
  [[G_EARLY, 0.006], [G_MID, 0.015], [G_LATE, 0.03]], [[H_OBS, 0.006]],
  [[I_OBS, 0.005]], [[J_OBS, 0.012]],
  [[K_OBS, 0.02]], [[L_OBS, 0.008]],
];

// ---------- layout ----------
const COL_LEFT = [66.7, 569.3];
const PANEL_W = 504.3;
const ROW_TOP = [22.7, 245, 467.3, 890, 1112.3, 1334];
const PANEL_H = 222.3;
const FONT = "DejaVu Sans";

function buildOption() {
  const grid: any[] = [];
  const xAxis: any[] = [];
  const yAxis: any[] = [];
  const series: any[] = [];
  const graphic: any[] = [];

  for (let i = 0; i < 12; i++) {
    const col = i % 2;
    const row = Math.floor(i / 2);
    const left = COL_LEFT[col];
    const top = ROW_TOP[row];
    const isTop = row === 0 || row === 3;
    const isBottom = row === 2 || row === 5;
    grid.push({ left, top, width: PANEL_W, height: PANEL_H, show: true, borderColor: "#000", borderWidth: 1, backgroundColor: "transparent" });

    const xb = xAxis.length;
    xAxis.push({
      gridIndex: i, type: "value", position: "bottom", min: X_MIN, max: X_MAX,
      axisLine: { show: false }, splitLine: { show: false },
      axisTick: { show: true, inside: true, length: 4, customValues: JD_TICKS, lineStyle: { color: "#000" } },
      axisLabel: { show: isBottom, inside: true, margin: 4, customValues: JD_TICKS, fontSize: 11.5, fontFamily: FONT, color: "#000", formatter: (v: number) => String(Math.round(v)) },
    });
    xAxis.push({
      gridIndex: i, type: "value", position: "top", min: X_MIN, max: X_MAX,
      axisLine: { show: false }, splitLine: { show: false },
      axisTick: { show: true, inside: isTop, length: 4, customValues: YEAR_JD, lineStyle: { color: "#000" } },
      axisLabel: {
        show: isTop, margin: 4, customValues: YEAR_JD, fontSize: 11.5, fontFamily: FONT, color: "#000",
        formatter: (v: number) => {
          const k = YEAR_JD.findIndex((d) => Math.abs(d - v) < 1);
          return k >= 0 ? YEAR_LABELS[k] : "";
        },
      },
    });

    const yl = yAxis.length;
    yAxis.push({
      gridIndex: i, type: "value", position: "left", inverse: true, min: Y_MIN[i], max: Y_MAX[i],
      axisLine: { show: false }, splitLine: { show: false },
      axisTick: { show: true, inside: col === 0, length: 4, customValues: Y_TICKS[i], lineStyle: { color: "#000" } },
      axisLabel: { show: true, inside: true, margin: 8, customValues: Y_TICKS[i], fontSize: 11.5, fontFamily: FONT, color: "#000", formatter: (v: number) => v.toFixed(Y_DEC[i]) },
    });
    if (col === 0) {
      yAxis.push({
        gridIndex: i, type: "value", position: "right", inverse: true, min: Y_MIN[i], max: Y_MAX[i],
        axisLine: { show: false }, splitLine: { show: false },
        axisTick: { show: true, inside: false, length: 4, customValues: Y_TICKS[i], lineStyle: { color: "#000" } },
        axisLabel: { show: false },
      });
    }

    const rows: number[][] = [];
    PANEL_GROUPS[i].forEach(([obs, e]) => {
      obs.forEach((p) => rows.push([p[0], p[1], p.length > 2 ? p[2] : e]));
    });

    series.push({
      type: "custom", xAxisIndex: xb, yAxisIndex: yl, data: rows, clip: true, silent: true,
      encode: { x: 0, y: 1 },
      renderItem: (params: any, api: any) => {
        const x = api.value(0), y = api.value(1), e = api.value(2);
        const a = api.coord([x, y - e]);
        const b = api.coord([x, y + e]);
        return { type: "line", shape: { x1: a[0], y1: a[1], x2: b[0], y2: b[1] }, style: { stroke: "#ff0000", lineWidth: 1.2 } };
      },
      z: 2,
    });
    series.push({
      type: "scatter", xAxisIndex: xb, yAxisIndex: yl, data: rows.map((r) => [r[0], r[1]]),
      symbol: "circle", symbolSize: 3.7, itemStyle: { color: "#000" }, silent: true, clip: true, z: 3,
    });

    const cy = top + 18;
    graphic.push({ type: "text", x: left + PANEL_W / 2, y: cy, style: { text: NAMES[i], fontSize: 15, fontFamily: FONT, fill: "#000", textAlign: "center", textVerticalAlign: "middle", align: "center", verticalAlign: "middle" } });
    if (PERIODS[i]) {
      graphic.push({ type: "text", x: left + 427.2, y: cy, style: { text: PERIODS[i], fontSize: 15, fontFamily: FONT, fill: "#000", textAlign: "center", textVerticalAlign: "middle", align: "center", verticalAlign: "middle" } });
    }
  }

  [742, 1609.5].forEach((yy) => {
    graphic.push({ type: "text", x: 553, y: yy, style: { text: "JD - 2450000", fontSize: 21.5, fontFamily: FONT, fill: "#000", textAlign: "center", textVerticalAlign: "middle", align: "center", verticalAlign: "middle" } });
  });
  [352, 1219].forEach((yy) => {
    graphic.push({ type: "text", x: 18.6, y: yy, rotation: Math.PI / 2, style: { text: "g magnitude", fontSize: 21.5, fontFamily: FONT, fill: "#000", textAlign: "center", textVerticalAlign: "middle", align: "center", verticalAlign: "middle" } });
  });

  return { animation: false, backgroundColor: "#fff", textStyle: { fontFamily: FONT }, grid, xAxis, yAxis, series, graphic };
}

export default function App() {
  const ref = useRef<HTMLDivElement>(null);
  useEffect(() => {
    document.body.style.margin = "0";
    if (!ref.current) return;
    const chart = echarts.init(ref.current, undefined, { renderer: "svg" });
    chart.setOption(buildOption() as any);
    return () => chart.dispose();
  }, []);
  return <div ref={ref} style={{ width: 1065, height: 1623, background: "#fff" }} />;
}
